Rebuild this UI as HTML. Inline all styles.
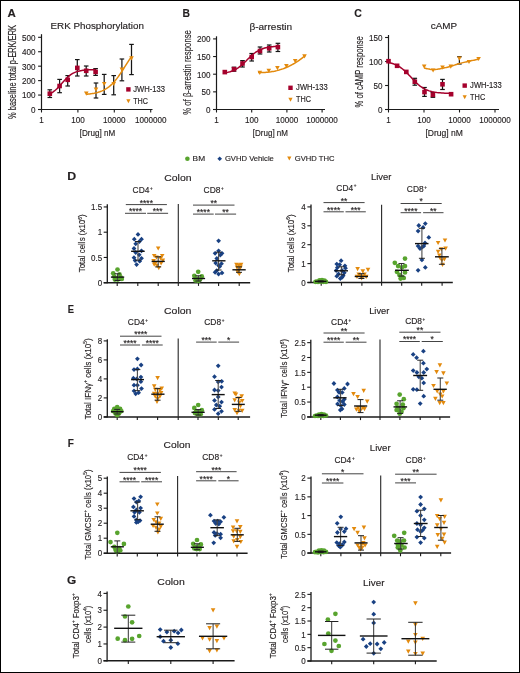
<!DOCTYPE html>
<html><head><meta charset="utf-8"><style>
html,body{margin:0;padding:0;background:#fff;}
svg{display:block;will-change:transform;font-family:"Liberation Sans",sans-serif;fill:#231f20;}
text{stroke:#231f20;stroke-width:0.15px;}
</style></head><body>
<svg width="520" height="673" viewBox="0 0 520 673">
<rect x="0.5" y="0.5" width="519" height="672" fill="#fff" stroke="#000" stroke-width="1"/>
<line x1="41.50" y1="34.20" x2="41.50" y2="110.00" stroke="#1a1a1a" stroke-width="1.2"/>
<line x1="38.10" y1="109.50" x2="152.50" y2="109.50" stroke="#1a1a1a" stroke-width="1.2"/>
<line x1="38.10" y1="109.50" x2="41.50" y2="109.50" stroke="#1a1a1a" stroke-width="1.1"/>
<text x="35.60" y="112.85" font-size="9.3" text-anchor="end" textLength="4.5" lengthAdjust="spacingAndGlyphs">0</text>
<line x1="38.10" y1="95.06" x2="41.50" y2="95.06" stroke="#1a1a1a" stroke-width="1.1"/>
<text x="35.60" y="98.41" font-size="9.3" text-anchor="end" textLength="13.5" lengthAdjust="spacingAndGlyphs">100</text>
<line x1="38.10" y1="80.62" x2="41.50" y2="80.62" stroke="#1a1a1a" stroke-width="1.1"/>
<text x="35.60" y="83.97" font-size="9.3" text-anchor="end" textLength="13.5" lengthAdjust="spacingAndGlyphs">200</text>
<line x1="38.10" y1="66.18" x2="41.50" y2="66.18" stroke="#1a1a1a" stroke-width="1.1"/>
<text x="35.60" y="69.53" font-size="9.3" text-anchor="end" textLength="13.5" lengthAdjust="spacingAndGlyphs">300</text>
<line x1="38.10" y1="51.74" x2="41.50" y2="51.74" stroke="#1a1a1a" stroke-width="1.1"/>
<text x="35.60" y="55.09" font-size="9.3" text-anchor="end" textLength="13.5" lengthAdjust="spacingAndGlyphs">400</text>
<line x1="38.10" y1="37.30" x2="41.50" y2="37.30" stroke="#1a1a1a" stroke-width="1.1"/>
<text x="35.60" y="40.65" font-size="9.3" text-anchor="end" textLength="13.5" lengthAdjust="spacingAndGlyphs">500</text>
<line x1="41.50" y1="109.50" x2="41.50" y2="112.50" stroke="#1a1a1a" stroke-width="1.1"/>
<text x="41.50" y="123.10" font-size="8.9" text-anchor="middle" textLength="4.5" lengthAdjust="spacingAndGlyphs">1</text>
<line x1="77.90" y1="109.50" x2="77.90" y2="112.50" stroke="#1a1a1a" stroke-width="1.1"/>
<text x="77.90" y="123.10" font-size="8.9" text-anchor="middle" textLength="13.51" lengthAdjust="spacingAndGlyphs">100</text>
<line x1="114.30" y1="109.50" x2="114.30" y2="112.50" stroke="#1a1a1a" stroke-width="1.1"/>
<text x="114.30" y="123.10" font-size="8.9" text-anchor="middle" textLength="22.52" lengthAdjust="spacingAndGlyphs">10000</text>
<line x1="150.70" y1="109.50" x2="150.70" y2="112.50" stroke="#1a1a1a" stroke-width="1.1"/>
<text x="150.70" y="123.10" font-size="8.9" text-anchor="middle" textLength="31.53" lengthAdjust="spacingAndGlyphs">1000000</text>
<text x="97.50" y="136.20" font-size="8.6" text-anchor="middle" textLength="35.5" lengthAdjust="spacingAndGlyphs">[Drug] nM</text>
<text transform="translate(15.70,71.90) rotate(-90)" font-size="10.2" text-anchor="middle" textLength="94.0" lengthAdjust="spacingAndGlyphs">% baseline total p-ERK/ERK</text>
<text x="50.51" y="28.50" font-size="9.4" textLength="93.43" lengthAdjust="spacingAndGlyphs">ERK Phosphorylation</text>
<line x1="49.80" y1="89.80" x2="49.80" y2="97.50" stroke="#151515" stroke-width="1.25"/>
<line x1="47.50" y1="89.80" x2="52.10" y2="89.80" stroke="#151515" stroke-width="1.2"/>
<line x1="47.50" y1="97.50" x2="52.10" y2="97.50" stroke="#151515" stroke-width="1.2"/>
<line x1="59.60" y1="79.40" x2="59.60" y2="92.70" stroke="#151515" stroke-width="1.25"/>
<line x1="57.30" y1="79.40" x2="61.90" y2="79.40" stroke="#151515" stroke-width="1.2"/>
<line x1="57.30" y1="92.70" x2="61.90" y2="92.70" stroke="#151515" stroke-width="1.2"/>
<line x1="67.70" y1="75.60" x2="67.70" y2="86.00" stroke="#151515" stroke-width="1.25"/>
<line x1="65.40" y1="75.60" x2="70.00" y2="75.60" stroke="#151515" stroke-width="1.2"/>
<line x1="65.40" y1="86.00" x2="70.00" y2="86.00" stroke="#151515" stroke-width="1.2"/>
<line x1="77.30" y1="59.60" x2="77.30" y2="76.00" stroke="#151515" stroke-width="1.25"/>
<line x1="75.00" y1="59.60" x2="79.60" y2="59.60" stroke="#151515" stroke-width="1.2"/>
<line x1="75.00" y1="76.00" x2="79.60" y2="76.00" stroke="#151515" stroke-width="1.2"/>
<line x1="86.20" y1="66.00" x2="86.20" y2="76.00" stroke="#151515" stroke-width="1.25"/>
<line x1="83.90" y1="66.00" x2="88.50" y2="66.00" stroke="#151515" stroke-width="1.2"/>
<line x1="83.90" y1="76.00" x2="88.50" y2="76.00" stroke="#151515" stroke-width="1.2"/>
<line x1="95.60" y1="68.60" x2="95.60" y2="75.40" stroke="#151515" stroke-width="1.25"/>
<line x1="93.30" y1="68.60" x2="97.90" y2="68.60" stroke="#151515" stroke-width="1.2"/>
<line x1="93.30" y1="75.40" x2="97.90" y2="75.40" stroke="#151515" stroke-width="1.2"/>
<line x1="96.00" y1="83.00" x2="96.00" y2="98.00" stroke="#151515" stroke-width="1.25"/>
<line x1="93.70" y1="83.00" x2="98.30" y2="83.00" stroke="#151515" stroke-width="1.2"/>
<line x1="93.70" y1="98.00" x2="98.30" y2="98.00" stroke="#151515" stroke-width="1.2"/>
<line x1="104.20" y1="74.40" x2="104.20" y2="94.40" stroke="#151515" stroke-width="1.25"/>
<line x1="101.90" y1="74.40" x2="106.50" y2="74.40" stroke="#151515" stroke-width="1.2"/>
<line x1="101.90" y1="94.40" x2="106.50" y2="94.40" stroke="#151515" stroke-width="1.2"/>
<line x1="113.70" y1="75.60" x2="113.70" y2="94.80" stroke="#151515" stroke-width="1.25"/>
<line x1="111.40" y1="75.60" x2="116.00" y2="75.60" stroke="#151515" stroke-width="1.2"/>
<line x1="111.40" y1="94.80" x2="116.00" y2="94.80" stroke="#151515" stroke-width="1.2"/>
<line x1="121.90" y1="59.00" x2="121.90" y2="80.80" stroke="#151515" stroke-width="1.25"/>
<line x1="119.60" y1="59.00" x2="124.20" y2="59.00" stroke="#151515" stroke-width="1.2"/>
<line x1="119.60" y1="80.80" x2="124.20" y2="80.80" stroke="#151515" stroke-width="1.2"/>
<line x1="131.50" y1="44.40" x2="131.50" y2="74.60" stroke="#151515" stroke-width="1.25"/>
<line x1="129.20" y1="44.40" x2="133.80" y2="44.40" stroke="#151515" stroke-width="1.2"/>
<line x1="129.20" y1="74.60" x2="133.80" y2="74.60" stroke="#151515" stroke-width="1.2"/>
<path d="M49.80,93.82 L50.95,93.24 L52.09,92.58 L53.23,91.82 L54.38,90.97 L55.52,90.02 L56.67,88.99 L57.81,87.86 L58.96,86.66 L60.10,85.40 L61.25,84.11 L62.39,82.80 L63.54,81.50 L64.69,80.22 L65.83,79.00 L66.97,77.86 L68.12,76.79 L69.26,75.81 L70.41,74.93 L71.55,74.15 L72.70,73.46 L73.84,72.85 L74.99,72.33 L76.13,71.88 L77.28,71.50 L78.42,71.17 L79.57,70.90 L80.72,70.66 L81.86,70.47 L83.00,70.31 L84.15,70.17 L85.29,70.06 L86.44,69.96 L87.58,69.88 L88.73,69.82 L89.88,69.76 L91.02,69.72 L92.16,69.68 L93.31,69.65 L94.45,69.62 L95.60,69.60" fill="none" stroke="#a5012c" stroke-width="1.5" stroke-linejoin="round"/>
<path d="M86.30,94.24 L87.43,94.14 L88.56,94.02 L89.69,93.89 L90.82,93.75 L91.95,93.59 L93.08,93.40 L94.21,93.20 L95.34,92.96 L96.47,92.70 L97.60,92.41 L98.73,92.08 L99.86,91.71 L100.99,91.30 L102.12,90.84 L103.25,90.33 L104.38,89.76 L105.51,89.14 L106.64,88.44 L107.77,87.68 L108.90,86.84 L110.03,85.92 L111.16,84.92 L112.29,83.83 L113.42,82.66 L114.55,81.41 L115.68,80.07 L116.81,78.64 L117.94,77.14 L119.07,75.56 L120.20,73.92 L121.33,72.23 L122.46,70.50 L123.59,68.73 L124.72,66.94 L125.85,65.16 L126.98,63.38 L128.11,61.62 L129.24,59.91 L130.37,58.24 L131.50,56.63" fill="none" stroke="#e38a0d" stroke-width="1.5" stroke-linejoin="round"/>
<rect x="47.50" y="91.40" width="4.6" height="4.6" fill="#a5012c"/>
<rect x="57.30" y="83.70" width="4.6" height="4.6" fill="#a5012c"/>
<rect x="65.40" y="77.50" width="4.6" height="4.6" fill="#a5012c"/>
<rect x="75.00" y="65.60" width="4.6" height="4.6" fill="#a5012c"/>
<rect x="83.90" y="68.50" width="4.6" height="4.6" fill="#a5012c"/>
<rect x="93.30" y="69.60" width="4.6" height="4.6" fill="#a5012c"/>
<path d="M84.00,91.60H88.60L86.30,95.80Z" fill="#e38a0d"/>
<path d="M93.70,87.50H98.30L96.00,91.70Z" fill="#e38a0d"/>
<path d="M101.90,81.90H106.50L104.20,86.10Z" fill="#e38a0d"/>
<path d="M111.40,81.90H116.00L113.70,86.10Z" fill="#e38a0d"/>
<path d="M119.60,67.50H124.20L121.90,71.70Z" fill="#e38a0d"/>
<path d="M129.20,56.20H133.80L131.50,60.40Z" fill="#e38a0d"/>
<rect x="126.20" y="87.20" width="4.4" height="4.4" fill="#a5012c"/>
<path d="M126.30,99.25H130.50L128.40,103.15Z" fill="#e38a0d"/>
<text x="133.20" y="92.00" font-size="8.2" textLength="31.8" lengthAdjust="spacingAndGlyphs">JWH-133</text>
<text x="133.20" y="103.60" font-size="8.2" textLength="14.8" lengthAdjust="spacingAndGlyphs">THC</text>
<line x1="216.50" y1="36.30" x2="216.50" y2="110.00" stroke="#1a1a1a" stroke-width="1.2"/>
<line x1="213.10" y1="109.50" x2="325.00" y2="109.50" stroke="#1a1a1a" stroke-width="1.2"/>
<line x1="213.10" y1="109.50" x2="216.50" y2="109.50" stroke="#1a1a1a" stroke-width="1.1"/>
<text x="210.60" y="112.85" font-size="9.3" text-anchor="end" textLength="4.5" lengthAdjust="spacingAndGlyphs">0</text>
<line x1="213.10" y1="91.85" x2="216.50" y2="91.85" stroke="#1a1a1a" stroke-width="1.1"/>
<text x="210.60" y="95.20" font-size="9.3" text-anchor="end" textLength="9.0" lengthAdjust="spacingAndGlyphs">50</text>
<line x1="213.10" y1="74.20" x2="216.50" y2="74.20" stroke="#1a1a1a" stroke-width="1.1"/>
<text x="210.60" y="77.55" font-size="9.3" text-anchor="end" textLength="13.5" lengthAdjust="spacingAndGlyphs">100</text>
<line x1="213.10" y1="56.55" x2="216.50" y2="56.55" stroke="#1a1a1a" stroke-width="1.1"/>
<text x="210.60" y="59.90" font-size="9.3" text-anchor="end" textLength="13.5" lengthAdjust="spacingAndGlyphs">150</text>
<line x1="213.10" y1="38.90" x2="216.50" y2="38.90" stroke="#1a1a1a" stroke-width="1.1"/>
<text x="210.60" y="42.25" font-size="9.3" text-anchor="end" textLength="13.5" lengthAdjust="spacingAndGlyphs">200</text>
<line x1="216.50" y1="109.50" x2="216.50" y2="112.50" stroke="#1a1a1a" stroke-width="1.1"/>
<text x="216.50" y="123.10" font-size="8.9" text-anchor="middle" textLength="4.5" lengthAdjust="spacingAndGlyphs">1</text>
<line x1="251.70" y1="109.50" x2="251.70" y2="112.50" stroke="#1a1a1a" stroke-width="1.1"/>
<text x="251.70" y="123.10" font-size="8.9" text-anchor="middle" textLength="13.51" lengthAdjust="spacingAndGlyphs">100</text>
<line x1="286.90" y1="109.50" x2="286.90" y2="112.50" stroke="#1a1a1a" stroke-width="1.1"/>
<text x="286.90" y="123.10" font-size="8.9" text-anchor="middle" textLength="22.52" lengthAdjust="spacingAndGlyphs">10000</text>
<line x1="322.10" y1="109.50" x2="322.10" y2="112.50" stroke="#1a1a1a" stroke-width="1.1"/>
<text x="322.10" y="123.10" font-size="8.9" text-anchor="middle" textLength="31.53" lengthAdjust="spacingAndGlyphs">1000000</text>
<text x="270.40" y="136.20" font-size="8.6" text-anchor="middle" textLength="35.2" lengthAdjust="spacingAndGlyphs">[Drug] nM</text>
<text transform="translate(190.60,72.45) rotate(-90)" font-size="10.2" text-anchor="middle" textLength="84.7" lengthAdjust="spacingAndGlyphs">% of β-arrestin response</text>
<text x="249.40" y="30.10" font-size="9.6" textLength="42.69" lengthAdjust="spacingAndGlyphs">β-arrestin</text>
<line x1="234.00" y1="67.20" x2="234.00" y2="71.20" stroke="#151515" stroke-width="1.25"/>
<line x1="231.70" y1="67.20" x2="236.30" y2="67.20" stroke="#151515" stroke-width="1.2"/>
<line x1="231.70" y1="71.20" x2="236.30" y2="71.20" stroke="#151515" stroke-width="1.2"/>
<line x1="242.50" y1="60.60" x2="242.50" y2="67.00" stroke="#151515" stroke-width="1.25"/>
<line x1="240.20" y1="60.60" x2="244.80" y2="60.60" stroke="#151515" stroke-width="1.2"/>
<line x1="240.20" y1="67.00" x2="244.80" y2="67.00" stroke="#151515" stroke-width="1.2"/>
<line x1="251.70" y1="53.50" x2="251.70" y2="61.00" stroke="#151515" stroke-width="1.25"/>
<line x1="249.40" y1="53.50" x2="254.00" y2="53.50" stroke="#151515" stroke-width="1.2"/>
<line x1="249.40" y1="61.00" x2="254.00" y2="61.00" stroke="#151515" stroke-width="1.2"/>
<line x1="260.00" y1="47.00" x2="260.00" y2="54.00" stroke="#151515" stroke-width="1.25"/>
<line x1="257.70" y1="47.00" x2="262.30" y2="47.00" stroke="#151515" stroke-width="1.2"/>
<line x1="257.70" y1="54.00" x2="262.30" y2="54.00" stroke="#151515" stroke-width="1.2"/>
<line x1="269.20" y1="45.00" x2="269.20" y2="52.00" stroke="#151515" stroke-width="1.25"/>
<line x1="266.90" y1="45.00" x2="271.50" y2="45.00" stroke="#151515" stroke-width="1.2"/>
<line x1="266.90" y1="52.00" x2="271.50" y2="52.00" stroke="#151515" stroke-width="1.2"/>
<line x1="277.90" y1="43.30" x2="277.90" y2="51.50" stroke="#151515" stroke-width="1.25"/>
<line x1="275.60" y1="43.30" x2="280.20" y2="43.30" stroke="#151515" stroke-width="1.2"/>
<line x1="275.60" y1="51.50" x2="280.20" y2="51.50" stroke="#151515" stroke-width="1.2"/>
<path d="M224.80,72.87 L226.13,72.65 L227.46,72.38 L228.79,72.07 L230.12,71.70 L231.45,71.26 L232.78,70.75 L234.11,70.17 L235.44,69.49 L236.77,68.73 L238.10,67.87 L239.43,66.91 L240.76,65.86 L242.09,64.72 L243.42,63.50 L244.75,62.23 L246.08,60.92 L247.41,59.59 L248.74,58.27 L250.07,56.98 L251.40,55.74 L252.73,54.57 L254.06,53.48 L255.39,52.49 L256.72,51.59 L258.05,50.79 L259.38,50.08 L260.71,49.46 L262.04,48.93 L263.37,48.46 L264.70,48.07 L266.03,47.73 L267.36,47.45 L268.69,47.21 L270.02,47.01 L271.35,46.84 L272.68,46.70 L274.01,46.58 L275.34,46.48 L276.67,46.40 L278.00,46.33" fill="none" stroke="#a5012c" stroke-width="1.5" stroke-linejoin="round"/>
<path d="M258.00,72.60 L259.18,72.60 L260.35,72.58 L261.52,72.56 L262.70,72.52 L263.88,72.47 L265.05,72.40 L266.23,72.31 L267.40,72.21 L268.57,72.09 L269.75,71.94 L270.93,71.78 L272.10,71.59 L273.27,71.39 L274.45,71.16 L275.62,70.90 L276.80,70.63 L277.98,70.32 L279.15,70.00 L280.32,69.65 L281.50,69.27 L282.68,68.87 L283.85,68.44 L285.02,67.98 L286.20,67.50 L287.38,66.99 L288.55,66.45 L289.73,65.88 L290.90,65.29 L292.07,64.66 L293.25,64.01 L294.43,63.32 L295.60,62.60 L296.77,61.86 L297.95,61.08 L299.12,60.27 L300.30,59.43 L301.48,58.56 L302.65,57.66 L303.82,56.72 L305.00,55.75" fill="none" stroke="#e38a0d" stroke-width="1.5" stroke-linejoin="round"/>
<rect x="222.50" y="69.80" width="4.6" height="4.6" fill="#a5012c"/>
<rect x="231.70" y="66.90" width="4.6" height="4.6" fill="#a5012c"/>
<rect x="240.20" y="61.20" width="4.6" height="4.6" fill="#a5012c"/>
<rect x="249.40" y="54.70" width="4.6" height="4.6" fill="#a5012c"/>
<rect x="257.70" y="48.70" width="4.6" height="4.6" fill="#a5012c"/>
<rect x="266.90" y="46.00" width="4.6" height="4.6" fill="#a5012c"/>
<rect x="275.60" y="44.80" width="4.6" height="4.6" fill="#a5012c"/>
<path d="M257.50,70.70H262.10L259.80,74.90Z" fill="#e38a0d"/>
<path d="M266.50,68.80H271.10L268.80,73.00Z" fill="#e38a0d"/>
<path d="M275.10,66.10H279.70L277.40,70.30Z" fill="#e38a0d"/>
<path d="M284.10,64.10H288.70L286.40,68.30Z" fill="#e38a0d"/>
<path d="M292.90,59.00H297.50L295.20,63.20Z" fill="#e38a0d"/>
<path d="M302.20,54.20H306.80L304.50,58.40Z" fill="#e38a0d"/>
<rect x="288.30" y="85.60" width="4.4" height="4.4" fill="#a5012c"/>
<path d="M288.40,97.75H292.60L290.50,101.65Z" fill="#e38a0d"/>
<text x="296.10" y="90.40" font-size="8.2" textLength="31.7" lengthAdjust="spacingAndGlyphs">JWH-133</text>
<text x="296.10" y="102.10" font-size="8.2" textLength="14.9" lengthAdjust="spacingAndGlyphs">THC</text>
<line x1="388.50" y1="35.00" x2="388.50" y2="110.00" stroke="#1a1a1a" stroke-width="1.2"/>
<line x1="385.10" y1="109.50" x2="499.00" y2="109.50" stroke="#1a1a1a" stroke-width="1.2"/>
<line x1="385.10" y1="109.50" x2="388.50" y2="109.50" stroke="#1a1a1a" stroke-width="1.1"/>
<text x="382.60" y="112.85" font-size="9.3" text-anchor="end" textLength="4.5" lengthAdjust="spacingAndGlyphs">0</text>
<line x1="385.10" y1="85.50" x2="388.50" y2="85.50" stroke="#1a1a1a" stroke-width="1.1"/>
<text x="382.60" y="88.85" font-size="9.3" text-anchor="end" textLength="9.0" lengthAdjust="spacingAndGlyphs">50</text>
<line x1="385.10" y1="61.50" x2="388.50" y2="61.50" stroke="#1a1a1a" stroke-width="1.1"/>
<text x="382.60" y="64.85" font-size="9.3" text-anchor="end" textLength="13.5" lengthAdjust="spacingAndGlyphs">100</text>
<line x1="385.10" y1="37.50" x2="388.50" y2="37.50" stroke="#1a1a1a" stroke-width="1.1"/>
<text x="382.60" y="40.85" font-size="9.3" text-anchor="end" textLength="13.5" lengthAdjust="spacingAndGlyphs">150</text>
<line x1="388.50" y1="109.50" x2="388.50" y2="112.50" stroke="#1a1a1a" stroke-width="1.1"/>
<text x="388.50" y="123.10" font-size="8.9" text-anchor="middle" textLength="4.5" lengthAdjust="spacingAndGlyphs">1</text>
<line x1="424.00" y1="109.50" x2="424.00" y2="112.50" stroke="#1a1a1a" stroke-width="1.1"/>
<text x="424.00" y="123.10" font-size="8.9" text-anchor="middle" textLength="13.51" lengthAdjust="spacingAndGlyphs">100</text>
<line x1="459.50" y1="109.50" x2="459.50" y2="112.50" stroke="#1a1a1a" stroke-width="1.1"/>
<text x="459.50" y="123.10" font-size="8.9" text-anchor="middle" textLength="22.52" lengthAdjust="spacingAndGlyphs">10000</text>
<line x1="495.00" y1="109.50" x2="495.00" y2="112.50" stroke="#1a1a1a" stroke-width="1.1"/>
<text x="495.00" y="123.10" font-size="8.9" text-anchor="middle" textLength="31.53" lengthAdjust="spacingAndGlyphs">1000000</text>
<text x="444.20" y="136.20" font-size="8.6" text-anchor="middle" textLength="37.5" lengthAdjust="spacingAndGlyphs">[Drug] nM</text>
<text transform="translate(362.70,71.90) rotate(-90)" font-size="10.2" text-anchor="middle" textLength="71.2" lengthAdjust="spacingAndGlyphs">% of cAMP response</text>
<text x="430.81" y="28.70" font-size="9.3" textLength="26.31" lengthAdjust="spacingAndGlyphs">cAMP</text>
<line x1="414.80" y1="78.30" x2="414.80" y2="85.20" stroke="#151515" stroke-width="1.25"/>
<line x1="412.50" y1="78.30" x2="417.10" y2="78.30" stroke="#151515" stroke-width="1.2"/>
<line x1="412.50" y1="85.20" x2="417.10" y2="85.20" stroke="#151515" stroke-width="1.2"/>
<line x1="424.50" y1="87.50" x2="424.50" y2="96.40" stroke="#151515" stroke-width="1.25"/>
<line x1="422.20" y1="87.50" x2="426.80" y2="87.50" stroke="#151515" stroke-width="1.2"/>
<line x1="422.20" y1="96.40" x2="426.80" y2="96.40" stroke="#151515" stroke-width="1.2"/>
<line x1="432.90" y1="92.50" x2="432.90" y2="97.30" stroke="#151515" stroke-width="1.25"/>
<line x1="430.60" y1="92.50" x2="435.20" y2="92.50" stroke="#151515" stroke-width="1.2"/>
<line x1="430.60" y1="97.30" x2="435.20" y2="97.30" stroke="#151515" stroke-width="1.2"/>
<line x1="442.50" y1="79.40" x2="442.50" y2="89.50" stroke="#151515" stroke-width="1.25"/>
<line x1="440.20" y1="79.40" x2="444.80" y2="79.40" stroke="#151515" stroke-width="1.2"/>
<line x1="440.20" y1="89.50" x2="444.80" y2="89.50" stroke="#151515" stroke-width="1.2"/>
<line x1="459.40" y1="56.70" x2="459.40" y2="64.00" stroke="#151515" stroke-width="1.25"/>
<line x1="457.10" y1="56.70" x2="461.70" y2="56.70" stroke="#151515" stroke-width="1.2"/>
<line x1="457.10" y1="64.00" x2="461.70" y2="64.00" stroke="#151515" stroke-width="1.2"/>
<path d="M388.50,62.54 L390.06,62.88 L391.63,63.28 L393.19,63.77 L394.76,64.34 L396.32,65.02 L397.89,65.82 L399.45,66.74 L401.02,67.79 L402.58,68.98 L404.15,70.31 L405.72,71.75 L407.28,73.30 L408.85,74.93 L410.41,76.61 L411.98,78.30 L413.54,79.98 L415.11,81.59 L416.67,83.12 L418.24,84.53 L419.80,85.82 L421.37,86.98 L422.93,88.00 L424.50,88.89 L426.06,89.65 L427.62,90.31 L429.19,90.86 L430.75,91.32 L432.32,91.71 L433.88,92.03 L435.45,92.30 L437.02,92.52 L438.58,92.70 L440.15,92.85 L441.71,92.97 L443.28,93.07 L444.84,93.15 L446.41,93.21 L447.97,93.27 L449.54,93.31 L451.10,93.35" fill="none" stroke="#a5012c" stroke-width="1.5" stroke-linejoin="round"/>
<path d="M424.00,68.00 L424.54,68.11 L425.22,68.26 L426.04,68.45 L426.95,68.66 L427.94,68.88 L428.97,69.08 L430.02,69.28 L431.06,69.43 L432.06,69.55 L433.00,69.60 L433.90,69.60 L434.80,69.56 L435.70,69.48 L436.60,69.37 L437.50,69.24 L438.40,69.09 L439.30,68.92 L440.20,68.75 L441.10,68.57 L442.00,68.40 L442.90,68.22 L443.80,68.03 L444.70,67.83 L445.60,67.62 L446.50,67.40 L447.40,67.17 L448.30,66.94 L449.20,66.69 L450.10,66.45 L451.00,66.20 L451.90,65.94 L452.78,65.67 L453.67,65.39 L454.55,65.10 L455.44,64.81 L456.33,64.52 L457.23,64.23 L458.14,63.94 L459.06,63.67 L460.00,63.40 L460.97,63.14 L461.96,62.88 L462.97,62.63 L464.00,62.38 L465.03,62.14 L466.05,61.90 L467.07,61.66 L468.07,61.44 L469.05,61.21 L470.00,61.00 L470.96,60.79 L471.95,60.57 L472.95,60.36 L473.95,60.15 L474.93,59.95 L475.85,59.76 L476.70,59.59 L477.45,59.44 L478.09,59.30 L478.60,59.20" fill="none" stroke="#e38a0d" stroke-width="1.5" stroke-linejoin="round"/>
<rect x="386.20" y="58.90" width="4.6" height="4.6" fill="#a5012c"/>
<rect x="394.80" y="63.50" width="4.6" height="4.6" fill="#a5012c"/>
<rect x="404.00" y="69.60" width="4.6" height="4.6" fill="#a5012c"/>
<rect x="412.50" y="79.40" width="4.6" height="4.6" fill="#a5012c"/>
<rect x="422.20" y="89.80" width="4.6" height="4.6" fill="#a5012c"/>
<rect x="430.60" y="92.50" width="4.6" height="4.6" fill="#a5012c"/>
<rect x="440.20" y="82.00" width="4.6" height="4.6" fill="#a5012c"/>
<rect x="448.80" y="91.90" width="4.6" height="4.6" fill="#a5012c"/>
<path d="M421.90,64.60H426.50L424.20,68.80Z" fill="#e38a0d"/>
<path d="M430.80,68.40H435.40L433.10,72.60Z" fill="#e38a0d"/>
<path d="M440.20,65.40H444.80L442.50,69.60Z" fill="#e38a0d"/>
<path d="M448.50,64.60H453.10L450.80,68.80Z" fill="#e38a0d"/>
<path d="M457.10,56.60H461.70L459.40,60.80Z" fill="#e38a0d"/>
<path d="M466.70,59.90H471.30L469.00,64.10Z" fill="#e38a0d"/>
<path d="M476.30,56.90H480.90L478.60,61.10Z" fill="#e38a0d"/>
<rect x="462.50" y="83.40" width="4.4" height="4.4" fill="#a5012c"/>
<path d="M462.60,95.25H466.80L464.70,99.15Z" fill="#e38a0d"/>
<text x="470.10" y="88.20" font-size="8.2" textLength="31.7" lengthAdjust="spacingAndGlyphs">JWH-133</text>
<text x="470.10" y="99.60" font-size="8.2" textLength="15.1" lengthAdjust="spacingAndGlyphs">THC</text>
<circle cx="187.40" cy="158.80" r="2.3" fill="#58a42e"/>
<text x="192.63" y="160.90" font-size="7.8" textLength="12.47" lengthAdjust="spacingAndGlyphs">BM</text>
<path d="M219.70,156.50L222.00,158.80L219.70,161.10L217.40,158.80Z" fill="#194183"/>
<text x="224.92" y="160.90" font-size="7.8" textLength="48.94" lengthAdjust="spacingAndGlyphs">GVHD Vehicle</text>
<path d="M287.20,156.60H291.40L289.30,160.60Z" fill="#e38a0d"/>
<text x="294.72" y="160.90" font-size="7.8" textLength="39.68" lengthAdjust="spacingAndGlyphs">GVHD THC</text>
<text x="7.51" y="16.50" font-size="11.2" font-weight="bold" stroke-width="0.55" textLength="8.30" lengthAdjust="spacingAndGlyphs">A</text>
<text x="182.43" y="16.60" font-size="11.2" font-weight="bold" stroke-width="0.55" textLength="7.46" lengthAdjust="spacingAndGlyphs">B</text>
<text x="354.28" y="16.50" font-size="11.2" font-weight="bold" stroke-width="0.55" textLength="7.61" lengthAdjust="spacingAndGlyphs">C</text>
<text x="67.30" y="180.40" font-size="11.2" font-weight="bold" stroke-width="0.55" textLength="8.92" lengthAdjust="spacingAndGlyphs">D</text>
<text x="67.69" y="313.20" font-size="11.2" font-weight="bold" stroke-width="0.55" textLength="6.26" lengthAdjust="spacingAndGlyphs">E</text>
<text x="67.65" y="446.80" font-size="11.2" font-weight="bold" stroke-width="0.55" textLength="6.11" lengthAdjust="spacingAndGlyphs">F</text>
<text x="67.03" y="584.30" font-size="11.2" font-weight="bold" stroke-width="0.55" textLength="9.22" lengthAdjust="spacingAndGlyphs">G</text>
<text x="164.28" y="180.80" font-size="9.6" textLength="27.23" lengthAdjust="spacingAndGlyphs">Colon</text>
<text x="370.95" y="180.40" font-size="9.6" textLength="20.42" lengthAdjust="spacingAndGlyphs">Liver</text>
<text x="163.97" y="313.90" font-size="9.6" textLength="27.44" lengthAdjust="spacingAndGlyphs">Colon</text>
<text x="369.16" y="313.60" font-size="9.6" textLength="20.11" lengthAdjust="spacingAndGlyphs">Liver</text>
<text x="163.59" y="447.90" font-size="9.6" textLength="26.81" lengthAdjust="spacingAndGlyphs">Colon</text>
<text x="369.83" y="451.00" font-size="9.6" textLength="20.84" lengthAdjust="spacingAndGlyphs">Liver</text>
<text x="157.38" y="585.30" font-size="9.6" textLength="27.33" lengthAdjust="spacingAndGlyphs">Colon</text>
<text x="363.11" y="586.30" font-size="9.6" textLength="21.47" lengthAdjust="spacingAndGlyphs">Liver</text>
<text x="132.58" y="193.20" font-size="8.3" textLength="16.78" lengthAdjust="spacingAndGlyphs">CD4</text>
<text x="150.00" y="189.80" font-size="4.6">+</text>
<text x="203.58" y="193.30" font-size="8.3" textLength="16.86" lengthAdjust="spacingAndGlyphs">CD8</text>
<text x="221.00" y="189.90" font-size="4.6">+</text>
<text x="336.38" y="190.80" font-size="8.3" textLength="16.78" lengthAdjust="spacingAndGlyphs">CD4</text>
<text x="353.80" y="187.40" font-size="4.6">+</text>
<text x="406.88" y="192.30" font-size="8.3" textLength="16.86" lengthAdjust="spacingAndGlyphs">CD8</text>
<text x="424.30" y="188.90" font-size="4.6">+</text>
<text x="127.88" y="325.20" font-size="8.3" textLength="16.78" lengthAdjust="spacingAndGlyphs">CD4</text>
<text x="145.30" y="321.80" font-size="4.6">+</text>
<text x="204.28" y="325.00" font-size="8.3" textLength="16.86" lengthAdjust="spacingAndGlyphs">CD8</text>
<text x="221.70" y="321.60" font-size="4.6">+</text>
<text x="331.08" y="325.20" font-size="8.3" textLength="16.78" lengthAdjust="spacingAndGlyphs">CD4</text>
<text x="348.50" y="321.80" font-size="4.6">+</text>
<text x="405.18" y="324.40" font-size="8.3" textLength="16.86" lengthAdjust="spacingAndGlyphs">CD8</text>
<text x="422.60" y="321.00" font-size="4.6">+</text>
<text x="127.28" y="460.20" font-size="8.3" textLength="16.78" lengthAdjust="spacingAndGlyphs">CD4</text>
<text x="144.70" y="456.80" font-size="4.6">+</text>
<text x="202.28" y="460.00" font-size="8.3" textLength="16.86" lengthAdjust="spacingAndGlyphs">CD8</text>
<text x="219.70" y="456.60" font-size="4.6">+</text>
<text x="334.48" y="463.20" font-size="8.3" textLength="16.78" lengthAdjust="spacingAndGlyphs">CD4</text>
<text x="351.90" y="459.80" font-size="4.6">+</text>
<text x="405.58" y="463.30" font-size="8.3" textLength="16.86" lengthAdjust="spacingAndGlyphs">CD8</text>
<text x="423.00" y="459.90" font-size="4.6">+</text>
<line x1="107.30" y1="204.20" x2="107.30" y2="283.30" stroke="#1a1a1a" stroke-width="1.3"/>
<line x1="103.70" y1="282.70" x2="250.20" y2="282.70" stroke="#1a1a1a" stroke-width="1.5"/>
<line x1="103.70" y1="282.70" x2="107.30" y2="282.70" stroke="#1a1a1a" stroke-width="1.1"/>
<text x="102.10" y="285.90" font-size="8.9" text-anchor="end" textLength="4.45" lengthAdjust="spacingAndGlyphs">0</text>
<line x1="103.70" y1="257.45" x2="107.30" y2="257.45" stroke="#1a1a1a" stroke-width="1.1"/>
<text x="102.10" y="260.65" font-size="8.9" text-anchor="end" textLength="11.12" lengthAdjust="spacingAndGlyphs">0.5</text>
<line x1="103.70" y1="232.20" x2="107.30" y2="232.20" stroke="#1a1a1a" stroke-width="1.1"/>
<text x="102.10" y="235.40" font-size="8.9" text-anchor="end" textLength="4.45" lengthAdjust="spacingAndGlyphs">1</text>
<line x1="103.70" y1="206.95" x2="107.30" y2="206.95" stroke="#1a1a1a" stroke-width="1.1"/>
<text x="102.10" y="210.15" font-size="8.9" text-anchor="end" textLength="11.12" lengthAdjust="spacingAndGlyphs">1.5</text>
<line x1="117.20" y1="282.70" x2="117.20" y2="285.90" stroke="#1a1a1a" stroke-width="1.1"/>
<line x1="137.80" y1="282.70" x2="137.80" y2="285.90" stroke="#1a1a1a" stroke-width="1.1"/>
<line x1="158.20" y1="282.70" x2="158.20" y2="285.90" stroke="#1a1a1a" stroke-width="1.1"/>
<line x1="198.50" y1="282.70" x2="198.50" y2="285.90" stroke="#1a1a1a" stroke-width="1.1"/>
<line x1="218.60" y1="282.70" x2="218.60" y2="285.90" stroke="#1a1a1a" stroke-width="1.1"/>
<line x1="239.20" y1="282.70" x2="239.20" y2="285.90" stroke="#1a1a1a" stroke-width="1.1"/>
<line x1="178.30" y1="204.00" x2="178.30" y2="282.70" stroke="#262626" stroke-width="1.1"/>
<line x1="178.30" y1="282.70" x2="178.30" y2="285.90" stroke="#1a1a1a" stroke-width="1.1"/>
<text transform="translate(85.20,243.30) rotate(-90)" font-size="9.6" text-anchor="middle" textLength="58.0" lengthAdjust="spacingAndGlyphs">Total cells (x10<tspan dy="-3.46" font-size="5.95">6</tspan><tspan dy="3.46">)</tspan></text>
<circle cx="117.50" cy="269.50" r="2.35" fill="#58a42e"/>
<circle cx="113.20" cy="273.30" r="2.35" fill="#58a42e"/>
<circle cx="119.50" cy="274.40" r="2.35" fill="#58a42e"/>
<circle cx="114.30" cy="276.70" r="2.35" fill="#58a42e"/>
<circle cx="120.70" cy="277.30" r="2.35" fill="#58a42e"/>
<circle cx="116.10" cy="278.50" r="2.35" fill="#58a42e"/>
<circle cx="117.80" cy="279.60" r="2.35" fill="#58a42e"/>
<circle cx="121.80" cy="279.00" r="2.35" fill="#58a42e"/>
<circle cx="114.90" cy="279.60" r="2.35" fill="#58a42e"/>
<line x1="117.50" y1="273.80" x2="117.50" y2="280.50" stroke="#4a4a4a" stroke-width="1.1"/>
<line x1="114.50" y1="273.80" x2="120.50" y2="273.80" stroke="#222" stroke-width="1.0"/>
<line x1="114.50" y1="280.50" x2="120.50" y2="280.50" stroke="#222" stroke-width="1.0"/>
<line x1="110.90" y1="277.10" x2="124.20" y2="277.10" stroke="#111" stroke-width="1.4"/>
<path d="M138.00,232.00L140.40,234.40L138.00,236.80L135.60,234.40Z" fill="#194183"/>
<path d="M134.30,236.80L136.70,239.20L134.30,241.60L131.90,239.20Z" fill="#194183"/>
<path d="M141.50,236.80L143.90,239.20L141.50,241.60L139.10,239.20Z" fill="#194183"/>
<path d="M135.70,241.40L138.10,243.80L135.70,246.20L133.30,243.80Z" fill="#194183"/>
<path d="M139.40,239.10L141.80,241.50L139.40,243.90L137.00,241.50Z" fill="#194183"/>
<path d="M134.00,246.10L136.40,248.50L134.00,250.90L131.60,248.50Z" fill="#194183"/>
<path d="M135.70,250.10L138.10,252.50L135.70,254.90L133.30,252.50Z" fill="#194183"/>
<path d="M141.50,248.40L143.90,250.80L141.50,253.20L139.10,250.80Z" fill="#194183"/>
<path d="M139.20,252.40L141.60,254.80L139.20,257.20L136.80,254.80Z" fill="#194183"/>
<path d="M134.00,255.30L136.40,257.70L134.00,260.10L131.60,257.70Z" fill="#194183"/>
<path d="M141.50,255.90L143.90,258.30L141.50,260.70L139.10,258.30Z" fill="#194183"/>
<path d="M135.10,258.20L137.50,260.60L135.10,263.00L132.70,260.60Z" fill="#194183"/>
<path d="M139.70,258.80L142.10,261.20L139.70,263.60L137.30,261.20Z" fill="#194183"/>
<path d="M136.60,262.20L139.00,264.60L136.60,267.00L134.20,264.60Z" fill="#194183"/>
<line x1="138.00" y1="241.50" x2="138.00" y2="260.20" stroke="#4a4a4a" stroke-width="1.1"/>
<line x1="135.00" y1="241.50" x2="141.00" y2="241.50" stroke="#222" stroke-width="1.0"/>
<line x1="135.00" y1="260.20" x2="141.00" y2="260.20" stroke="#222" stroke-width="1.0"/>
<line x1="131.10" y1="251.30" x2="144.70" y2="251.30" stroke="#111" stroke-width="1.4"/>
<path d="M155.90,246.40H160.50L158.20,250.60Z" fill="#e38a0d"/>
<path d="M151.90,253.90H156.50L154.20,258.10Z" fill="#e38a0d"/>
<path d="M159.90,253.90H164.50L162.20,258.10Z" fill="#e38a0d"/>
<path d="M154.20,255.60H158.80L156.50,259.80Z" fill="#e38a0d"/>
<path d="M158.20,256.20H162.80L160.50,260.40Z" fill="#e38a0d"/>
<path d="M151.30,259.10H155.90L153.60,263.30Z" fill="#e38a0d"/>
<path d="M160.50,258.50H165.10L162.80,262.70Z" fill="#e38a0d"/>
<path d="M153.00,261.40H157.60L155.30,265.60Z" fill="#e38a0d"/>
<path d="M158.80,261.40H163.40L161.10,265.60Z" fill="#e38a0d"/>
<path d="M154.70,263.70H159.30L157.00,267.90Z" fill="#e38a0d"/>
<path d="M156.50,266.00H161.10L158.80,270.20Z" fill="#e38a0d"/>
<path d="M151.90,262.50H156.50L154.20,266.70Z" fill="#e38a0d"/>
<line x1="158.20" y1="256.80" x2="158.20" y2="266.90" stroke="#4a4a4a" stroke-width="1.1"/>
<line x1="155.20" y1="256.80" x2="161.20" y2="256.80" stroke="#222" stroke-width="1.0"/>
<line x1="155.20" y1="266.90" x2="161.20" y2="266.90" stroke="#222" stroke-width="1.0"/>
<line x1="151.60" y1="261.40" x2="164.80" y2="261.40" stroke="#111" stroke-width="1.4"/>
<circle cx="198.20" cy="271.80" r="2.35" fill="#58a42e"/>
<circle cx="194.30" cy="275.80" r="2.35" fill="#58a42e"/>
<circle cx="201.80" cy="276.40" r="2.35" fill="#58a42e"/>
<circle cx="196.70" cy="278.70" r="2.35" fill="#58a42e"/>
<circle cx="200.10" cy="279.30" r="2.35" fill="#58a42e"/>
<circle cx="198.40" cy="281.00" r="2.35" fill="#58a42e"/>
<circle cx="195.50" cy="280.40" r="2.35" fill="#58a42e"/>
<line x1="198.40" y1="275.80" x2="198.40" y2="281.00" stroke="#4a4a4a" stroke-width="1.1"/>
<line x1="195.40" y1="275.80" x2="201.40" y2="275.80" stroke="#222" stroke-width="1.0"/>
<line x1="195.40" y1="281.00" x2="201.40" y2="281.00" stroke="#222" stroke-width="1.0"/>
<line x1="192.00" y1="278.50" x2="205.10" y2="278.50" stroke="#111" stroke-width="1.4"/>
<path d="M218.60,238.40L221.00,240.80L218.60,243.20L216.20,240.80Z" fill="#194183"/>
<path d="M218.60,248.40L221.00,250.80L218.60,253.20L216.20,250.80Z" fill="#194183"/>
<path d="M215.10,250.90L217.50,253.30L215.10,255.70L212.70,253.30Z" fill="#194183"/>
<path d="M222.00,250.90L224.40,253.30L222.00,255.70L219.60,253.30Z" fill="#194183"/>
<path d="M220.30,252.60L222.70,255.00L220.30,257.40L217.90,255.00Z" fill="#194183"/>
<path d="M216.80,256.10L219.20,258.50L216.80,260.90L214.40,258.50Z" fill="#194183"/>
<path d="M215.70,260.70L218.10,263.10L215.70,265.50L213.30,263.10Z" fill="#194183"/>
<path d="M221.50,261.30L223.90,263.70L221.50,266.10L219.10,263.70Z" fill="#194183"/>
<path d="M218.60,263.00L221.00,265.40L218.60,267.80L216.20,265.40Z" fill="#194183"/>
<path d="M219.70,264.20L222.10,266.60L219.70,269.00L217.30,266.60Z" fill="#194183"/>
<path d="M215.10,269.90L217.50,272.30L215.10,274.70L212.70,272.30Z" fill="#194183"/>
<path d="M218.60,271.70L221.00,274.10L218.60,276.50L216.20,274.10Z" fill="#194183"/>
<path d="M222.00,270.50L224.40,272.90L222.00,275.30L219.60,272.90Z" fill="#194183"/>
<path d="M216.80,268.20L219.20,270.60L216.80,273.00L214.40,270.60Z" fill="#194183"/>
<line x1="218.60" y1="252.20" x2="218.60" y2="270.00" stroke="#4a4a4a" stroke-width="1.1"/>
<line x1="215.60" y1="252.20" x2="221.60" y2="252.20" stroke="#222" stroke-width="1.0"/>
<line x1="215.60" y1="270.00" x2="221.60" y2="270.00" stroke="#222" stroke-width="1.0"/>
<line x1="212.20" y1="260.80" x2="225.50" y2="260.80" stroke="#111" stroke-width="1.4"/>
<path d="M234.20,262.70H238.80L236.50,266.90Z" fill="#e38a0d"/>
<path d="M238.80,262.70H243.40L241.10,266.90Z" fill="#e38a0d"/>
<path d="M236.50,263.30H241.10L238.80,267.50Z" fill="#e38a0d"/>
<path d="M234.70,265.60H239.30L237.00,269.80Z" fill="#e38a0d"/>
<path d="M238.20,265.60H242.80L240.50,269.80Z" fill="#e38a0d"/>
<path d="M236.50,268.50H241.10L238.80,272.70Z" fill="#e38a0d"/>
<path d="M235.30,269.70H239.90L237.60,273.90Z" fill="#e38a0d"/>
<path d="M237.00,272.00H241.60L239.30,276.20Z" fill="#e38a0d"/>
<line x1="239.00" y1="266.90" x2="239.00" y2="272.30" stroke="#4a4a4a" stroke-width="1.1"/>
<line x1="236.00" y1="266.90" x2="242.00" y2="266.90" stroke="#222" stroke-width="1.0"/>
<line x1="236.00" y1="272.30" x2="242.00" y2="272.30" stroke="#222" stroke-width="1.0"/>
<line x1="232.40" y1="269.80" x2="245.70" y2="269.80" stroke="#111" stroke-width="1.4"/>
<line x1="125.80" y1="204.60" x2="166.90" y2="204.60" stroke="#444" stroke-width="1.0"/>
<text x="146.35" y="205.50" font-size="8.2" text-anchor="middle" textLength="13.2" lengthAdjust="spacingAndGlyphs">****</text>
<line x1="125.00" y1="213.30" x2="146.00" y2="213.30" stroke="#444" stroke-width="1.0"/>
<text x="135.50" y="214.20" font-size="8.2" text-anchor="middle" textLength="13.2" lengthAdjust="spacingAndGlyphs">****</text>
<line x1="147.20" y1="213.30" x2="168.10" y2="213.30" stroke="#444" stroke-width="1.0"/>
<text x="157.65" y="214.20" font-size="8.2" text-anchor="middle" textLength="9.9" lengthAdjust="spacingAndGlyphs">***</text>
<line x1="193.00" y1="205.10" x2="234.50" y2="205.10" stroke="#444" stroke-width="1.0"/>
<text x="213.75" y="206.00" font-size="8.2" text-anchor="middle" textLength="6.6" lengthAdjust="spacingAndGlyphs">**</text>
<line x1="193.00" y1="214.10" x2="213.70" y2="214.10" stroke="#444" stroke-width="1.0"/>
<text x="203.35" y="215.00" font-size="8.2" text-anchor="middle" textLength="13.2" lengthAdjust="spacingAndGlyphs">****</text>
<line x1="215.00" y1="214.10" x2="236.10" y2="214.10" stroke="#444" stroke-width="1.0"/>
<text x="225.55" y="215.00" font-size="8.2" text-anchor="middle" textLength="6.6" lengthAdjust="spacingAndGlyphs">**</text>
<line x1="311.00" y1="204.50" x2="311.00" y2="283.10" stroke="#1a1a1a" stroke-width="1.3"/>
<line x1="307.40" y1="282.50" x2="452.80" y2="282.50" stroke="#1a1a1a" stroke-width="1.5"/>
<line x1="307.40" y1="282.50" x2="311.00" y2="282.50" stroke="#1a1a1a" stroke-width="1.1"/>
<text x="305.80" y="285.70" font-size="8.9" text-anchor="end" textLength="4.45" lengthAdjust="spacingAndGlyphs">0</text>
<line x1="307.40" y1="263.60" x2="311.00" y2="263.60" stroke="#1a1a1a" stroke-width="1.1"/>
<text x="305.80" y="266.80" font-size="8.9" text-anchor="end" textLength="4.45" lengthAdjust="spacingAndGlyphs">1</text>
<line x1="307.40" y1="244.70" x2="311.00" y2="244.70" stroke="#1a1a1a" stroke-width="1.1"/>
<text x="305.80" y="247.90" font-size="8.9" text-anchor="end" textLength="4.45" lengthAdjust="spacingAndGlyphs">2</text>
<line x1="307.40" y1="225.80" x2="311.00" y2="225.80" stroke="#1a1a1a" stroke-width="1.1"/>
<text x="305.80" y="229.00" font-size="8.9" text-anchor="end" textLength="4.45" lengthAdjust="spacingAndGlyphs">3</text>
<line x1="307.40" y1="206.90" x2="311.00" y2="206.90" stroke="#1a1a1a" stroke-width="1.1"/>
<text x="305.80" y="210.10" font-size="8.9" text-anchor="end" textLength="4.45" lengthAdjust="spacingAndGlyphs">4</text>
<line x1="321.20" y1="282.50" x2="321.20" y2="285.70" stroke="#1a1a1a" stroke-width="1.1"/>
<line x1="341.50" y1="282.50" x2="341.50" y2="285.70" stroke="#1a1a1a" stroke-width="1.1"/>
<line x1="361.90" y1="282.50" x2="361.90" y2="285.70" stroke="#1a1a1a" stroke-width="1.1"/>
<line x1="401.70" y1="282.50" x2="401.70" y2="285.70" stroke="#1a1a1a" stroke-width="1.1"/>
<line x1="421.70" y1="282.50" x2="421.70" y2="285.70" stroke="#1a1a1a" stroke-width="1.1"/>
<line x1="442.10" y1="282.50" x2="442.10" y2="285.70" stroke="#1a1a1a" stroke-width="1.1"/>
<line x1="381.60" y1="204.70" x2="381.60" y2="282.50" stroke="#262626" stroke-width="1.1"/>
<line x1="381.60" y1="282.50" x2="381.60" y2="285.70" stroke="#1a1a1a" stroke-width="1.1"/>
<text transform="translate(293.90,243.30) rotate(-90)" font-size="9.6" text-anchor="middle" textLength="58.0" lengthAdjust="spacingAndGlyphs">Total cells (x10<tspan dy="-3.46" font-size="5.95">6</tspan><tspan dy="3.46">)</tspan></text>
<circle cx="317.00" cy="281.50" r="2.35" fill="#58a42e"/>
<circle cx="319.50" cy="280.30" r="2.35" fill="#58a42e"/>
<circle cx="322.00" cy="280.00" r="2.35" fill="#58a42e"/>
<circle cx="324.50" cy="280.50" r="2.35" fill="#58a42e"/>
<circle cx="326.00" cy="281.80" r="2.35" fill="#58a42e"/>
<circle cx="318.00" cy="282.00" r="2.35" fill="#58a42e"/>
<circle cx="321.00" cy="281.60" r="2.35" fill="#58a42e"/>
<circle cx="323.50" cy="281.80" r="2.35" fill="#58a42e"/>
<circle cx="315.50" cy="281.80" r="2.35" fill="#58a42e"/>
<line x1="320.70" y1="280.80" x2="320.70" y2="282.00" stroke="#4a4a4a" stroke-width="1.1"/>
<line x1="317.70" y1="280.80" x2="323.70" y2="280.80" stroke="#222" stroke-width="1.0"/>
<line x1="317.70" y1="282.00" x2="323.70" y2="282.00" stroke="#222" stroke-width="1.0"/>
<line x1="315.00" y1="281.40" x2="326.50" y2="281.40" stroke="#111" stroke-width="1.4"/>
<path d="M341.10,258.30L343.50,260.70L341.10,263.10L338.70,260.70Z" fill="#194183"/>
<path d="M336.80,261.70L339.20,264.10L336.80,266.50L334.40,264.10Z" fill="#194183"/>
<path d="M339.70,262.30L342.10,264.70L339.70,267.10L337.30,264.70Z" fill="#194183"/>
<path d="M344.90,263.40L347.30,265.80L344.90,268.20L342.50,265.80Z" fill="#194183"/>
<path d="M337.40,265.20L339.80,267.60L337.40,270.00L335.00,267.60Z" fill="#194183"/>
<path d="M345.50,265.80L347.90,268.20L345.50,270.60L343.10,268.20Z" fill="#194183"/>
<path d="M336.20,268.10L338.60,270.50L336.20,272.90L333.80,270.50Z" fill="#194183"/>
<path d="M342.00,268.10L344.40,270.50L342.00,272.90L339.60,270.50Z" fill="#194183"/>
<path d="M344.30,270.40L346.70,272.80L344.30,275.20L341.90,272.80Z" fill="#194183"/>
<path d="M338.50,271.50L340.90,273.90L338.50,276.30L336.10,273.90Z" fill="#194183"/>
<path d="M336.80,273.80L339.20,276.20L336.80,278.60L334.40,276.20Z" fill="#194183"/>
<path d="M343.20,273.30L345.60,275.70L343.20,278.10L340.80,275.70Z" fill="#194183"/>
<path d="M340.30,276.10L342.70,278.50L340.30,280.90L337.90,278.50Z" fill="#194183"/>
<path d="M342.00,275.00L344.40,277.40L342.00,279.80L339.60,277.40Z" fill="#194183"/>
<line x1="341.40" y1="266.80" x2="341.40" y2="274.80" stroke="#4a4a4a" stroke-width="1.1"/>
<line x1="338.40" y1="266.80" x2="344.40" y2="266.80" stroke="#222" stroke-width="1.0"/>
<line x1="338.40" y1="274.80" x2="344.40" y2="274.80" stroke="#222" stroke-width="1.0"/>
<line x1="334.50" y1="270.80" x2="348.00" y2="270.80" stroke="#111" stroke-width="1.4"/>
<path d="M355.30,267.00H359.90L357.60,271.20Z" fill="#e38a0d"/>
<path d="M360.50,269.30H365.10L362.80,273.50Z" fill="#e38a0d"/>
<path d="M365.70,267.80H370.30L368.00,272.00Z" fill="#e38a0d"/>
<path d="M356.40,272.40H361.00L358.70,276.60Z" fill="#e38a0d"/>
<path d="M362.20,272.40H366.80L364.50,276.60Z" fill="#e38a0d"/>
<path d="M358.20,274.10H362.80L360.50,278.30Z" fill="#e38a0d"/>
<path d="M360.50,274.70H365.10L362.80,278.90Z" fill="#e38a0d"/>
<path d="M354.70,274.70H359.30L357.00,278.90Z" fill="#e38a0d"/>
<path d="M363.90,274.70H368.50L366.20,278.90Z" fill="#e38a0d"/>
<path d="M359.30,276.20H363.90L361.60,280.40Z" fill="#e38a0d"/>
<line x1="361.40" y1="273.70" x2="361.40" y2="278.50" stroke="#4a4a4a" stroke-width="1.1"/>
<line x1="358.40" y1="273.70" x2="364.40" y2="273.70" stroke="#222" stroke-width="1.0"/>
<line x1="358.40" y1="278.50" x2="364.40" y2="278.50" stroke="#222" stroke-width="1.0"/>
<line x1="354.70" y1="276.50" x2="368.00" y2="276.50" stroke="#111" stroke-width="1.4"/>
<circle cx="405.00" cy="258.60" r="2.35" fill="#58a42e"/>
<circle cx="394.80" cy="262.80" r="2.35" fill="#58a42e"/>
<circle cx="398.10" cy="266.10" r="2.35" fill="#58a42e"/>
<circle cx="405.00" cy="266.10" r="2.35" fill="#58a42e"/>
<circle cx="401.90" cy="267.40" r="2.35" fill="#58a42e"/>
<circle cx="396.90" cy="271.80" r="2.35" fill="#58a42e"/>
<circle cx="405.00" cy="272.40" r="2.35" fill="#58a42e"/>
<circle cx="399.40" cy="274.90" r="2.35" fill="#58a42e"/>
<circle cx="401.90" cy="276.80" r="2.35" fill="#58a42e"/>
<circle cx="400.60" cy="278.60" r="2.35" fill="#58a42e"/>
<circle cx="403.80" cy="278.00" r="2.35" fill="#58a42e"/>
<line x1="401.50" y1="263.60" x2="401.50" y2="276.10" stroke="#4a4a4a" stroke-width="1.1"/>
<line x1="398.50" y1="263.60" x2="404.50" y2="263.60" stroke="#222" stroke-width="1.0"/>
<line x1="398.50" y1="276.10" x2="404.50" y2="276.10" stroke="#222" stroke-width="1.0"/>
<line x1="395.00" y1="270.30" x2="408.80" y2="270.30" stroke="#111" stroke-width="1.4"/>
<path d="M418.80,223.10L421.20,225.50L418.80,227.90L416.40,225.50Z" fill="#194183"/>
<path d="M425.30,221.20L427.70,223.60L425.30,226.00L422.90,223.60Z" fill="#194183"/>
<path d="M423.10,225.00L425.50,227.40L423.10,229.80L420.70,227.40Z" fill="#194183"/>
<path d="M418.10,228.70L420.50,231.10L418.10,233.50L415.70,231.10Z" fill="#194183"/>
<path d="M428.80,235.00L431.20,237.40L428.80,239.80L426.40,237.40Z" fill="#194183"/>
<path d="M425.00,240.60L427.40,243.00L425.00,245.40L422.60,243.00Z" fill="#194183"/>
<path d="M418.10,243.70L420.50,246.10L418.10,248.50L415.70,246.10Z" fill="#194183"/>
<path d="M421.90,245.00L424.30,247.40L421.90,249.80L419.50,247.40Z" fill="#194183"/>
<path d="M420.00,246.20L422.40,248.60L420.00,251.00L417.60,248.60Z" fill="#194183"/>
<path d="M423.80,243.70L426.20,246.10L423.80,248.50L421.40,246.10Z" fill="#194183"/>
<path d="M421.90,257.50L424.30,259.90L421.90,262.30L419.50,259.90Z" fill="#194183"/>
<path d="M418.10,267.90L420.50,270.30L418.10,272.70L415.70,270.30Z" fill="#194183"/>
<path d="M425.30,265.00L427.70,267.40L425.30,269.80L422.90,267.40Z" fill="#194183"/>
<line x1="421.90" y1="228.30" x2="421.90" y2="258.30" stroke="#4a4a4a" stroke-width="1.1"/>
<line x1="418.90" y1="228.30" x2="424.90" y2="228.30" stroke="#222" stroke-width="1.0"/>
<line x1="418.90" y1="258.30" x2="424.90" y2="258.30" stroke="#222" stroke-width="1.0"/>
<line x1="415.00" y1="243.60" x2="428.50" y2="243.60" stroke="#111" stroke-width="1.4"/>
<path d="M435.80,240.90H440.40L438.10,245.10Z" fill="#e38a0d"/>
<path d="M442.70,238.40H447.30L445.00,242.60Z" fill="#e38a0d"/>
<path d="M435.80,249.70H440.40L438.10,253.90Z" fill="#e38a0d"/>
<path d="M443.30,246.50H447.90L445.60,250.70Z" fill="#e38a0d"/>
<path d="M439.00,247.20H443.60L441.30,251.40Z" fill="#e38a0d"/>
<path d="M437.70,255.90H442.30L440.00,260.10Z" fill="#e38a0d"/>
<path d="M442.10,257.20H446.70L444.40,261.40Z" fill="#e38a0d"/>
<path d="M439.60,258.40H444.20L441.90,262.60Z" fill="#e38a0d"/>
<path d="M440.20,262.80H444.80L442.50,267.00Z" fill="#e38a0d"/>
<path d="M437.10,253.40H441.70L439.40,257.60Z" fill="#e38a0d"/>
<line x1="441.90" y1="248.60" x2="441.90" y2="264.30" stroke="#4a4a4a" stroke-width="1.1"/>
<line x1="438.90" y1="248.60" x2="444.90" y2="248.60" stroke="#222" stroke-width="1.0"/>
<line x1="438.90" y1="264.30" x2="444.90" y2="264.30" stroke="#222" stroke-width="1.0"/>
<line x1="435.00" y1="256.80" x2="448.80" y2="256.80" stroke="#111" stroke-width="1.4"/>
<line x1="323.50" y1="202.60" x2="364.60" y2="202.60" stroke="#444" stroke-width="1.0"/>
<text x="344.05" y="203.50" font-size="8.2" text-anchor="middle" textLength="6.6" lengthAdjust="spacingAndGlyphs">**</text>
<line x1="323.50" y1="211.80" x2="343.80" y2="211.80" stroke="#444" stroke-width="1.0"/>
<text x="333.65" y="212.70" font-size="8.2" text-anchor="middle" textLength="13.2" lengthAdjust="spacingAndGlyphs">****</text>
<line x1="345.50" y1="211.80" x2="365.80" y2="211.80" stroke="#444" stroke-width="1.0"/>
<text x="355.65" y="212.70" font-size="8.2" text-anchor="middle" textLength="9.9" lengthAdjust="spacingAndGlyphs">***</text>
<line x1="400.60" y1="203.50" x2="441.70" y2="203.50" stroke="#444" stroke-width="1.0"/>
<text x="421.15" y="204.40" font-size="8.2" text-anchor="middle" textLength="3.3" lengthAdjust="spacingAndGlyphs">*</text>
<line x1="400.60" y1="212.70" x2="421.10" y2="212.70" stroke="#444" stroke-width="1.0"/>
<text x="410.85" y="213.60" font-size="8.2" text-anchor="middle" textLength="13.2" lengthAdjust="spacingAndGlyphs">****</text>
<line x1="423.10" y1="212.70" x2="443.50" y2="212.70" stroke="#444" stroke-width="1.0"/>
<text x="433.30" y="213.60" font-size="8.2" text-anchor="middle" textLength="6.6" lengthAdjust="spacingAndGlyphs">**</text>
<line x1="107.30" y1="339.20" x2="107.30" y2="417.50" stroke="#1a1a1a" stroke-width="1.3"/>
<line x1="103.70" y1="416.90" x2="250.10" y2="416.90" stroke="#1a1a1a" stroke-width="1.5"/>
<line x1="103.70" y1="416.90" x2="107.30" y2="416.90" stroke="#1a1a1a" stroke-width="1.1"/>
<text x="102.10" y="420.10" font-size="8.9" text-anchor="end" textLength="4.45" lengthAdjust="spacingAndGlyphs">0</text>
<line x1="103.70" y1="397.90" x2="107.30" y2="397.90" stroke="#1a1a1a" stroke-width="1.1"/>
<text x="102.10" y="401.10" font-size="8.9" text-anchor="end" textLength="4.45" lengthAdjust="spacingAndGlyphs">2</text>
<line x1="103.70" y1="378.90" x2="107.30" y2="378.90" stroke="#1a1a1a" stroke-width="1.1"/>
<text x="102.10" y="382.10" font-size="8.9" text-anchor="end" textLength="4.45" lengthAdjust="spacingAndGlyphs">4</text>
<line x1="103.70" y1="359.90" x2="107.30" y2="359.90" stroke="#1a1a1a" stroke-width="1.1"/>
<text x="102.10" y="363.10" font-size="8.9" text-anchor="end" textLength="4.45" lengthAdjust="spacingAndGlyphs">6</text>
<line x1="103.70" y1="340.90" x2="107.30" y2="340.90" stroke="#1a1a1a" stroke-width="1.1"/>
<text x="102.10" y="344.10" font-size="8.9" text-anchor="end" textLength="4.45" lengthAdjust="spacingAndGlyphs">8</text>
<line x1="117.20" y1="416.90" x2="117.20" y2="420.10" stroke="#1a1a1a" stroke-width="1.1"/>
<line x1="137.30" y1="416.90" x2="137.30" y2="420.10" stroke="#1a1a1a" stroke-width="1.1"/>
<line x1="157.60" y1="416.90" x2="157.60" y2="420.10" stroke="#1a1a1a" stroke-width="1.1"/>
<line x1="198.00" y1="416.90" x2="198.00" y2="420.10" stroke="#1a1a1a" stroke-width="1.1"/>
<line x1="218.30" y1="416.90" x2="218.30" y2="420.10" stroke="#1a1a1a" stroke-width="1.1"/>
<line x1="238.20" y1="416.90" x2="238.20" y2="420.10" stroke="#1a1a1a" stroke-width="1.1"/>
<line x1="178.20" y1="338.60" x2="178.20" y2="416.90" stroke="#262626" stroke-width="1.1"/>
<line x1="178.20" y1="416.90" x2="178.20" y2="420.10" stroke="#1a1a1a" stroke-width="1.1"/>
<text transform="translate(90.90,378.70) rotate(-90)" font-size="9.6" text-anchor="middle" textLength="81.0" lengthAdjust="spacingAndGlyphs">Total IFNγ<tspan dy="-3.46" font-size="5.95">+</tspan><tspan dy="3.46"> cells (x10</tspan><tspan dy="-3.46" font-size="5.95">5</tspan><tspan dy="3.46">)</tspan></text>
<circle cx="117.20" cy="407.10" r="2.35" fill="#58a42e"/>
<circle cx="114.30" cy="408.80" r="2.35" fill="#58a42e"/>
<circle cx="120.10" cy="408.80" r="2.35" fill="#58a42e"/>
<circle cx="113.20" cy="411.10" r="2.35" fill="#58a42e"/>
<circle cx="121.30" cy="411.10" r="2.35" fill="#58a42e"/>
<circle cx="117.20" cy="411.70" r="2.35" fill="#58a42e"/>
<circle cx="115.50" cy="413.40" r="2.35" fill="#58a42e"/>
<circle cx="119.00" cy="413.40" r="2.35" fill="#58a42e"/>
<circle cx="117.20" cy="415.20" r="2.35" fill="#58a42e"/>
<line x1="117.20" y1="409.40" x2="117.20" y2="414.00" stroke="#4a4a4a" stroke-width="1.1"/>
<line x1="114.20" y1="409.40" x2="120.20" y2="409.40" stroke="#222" stroke-width="1.0"/>
<line x1="114.20" y1="414.00" x2="120.20" y2="414.00" stroke="#222" stroke-width="1.0"/>
<line x1="110.90" y1="411.70" x2="123.60" y2="411.70" stroke="#111" stroke-width="1.4"/>
<path d="M137.40,356.40L139.80,358.80L137.40,361.20L135.00,358.80Z" fill="#194183"/>
<path d="M141.10,362.60L143.50,365.00L141.10,367.40L138.70,365.00Z" fill="#194183"/>
<path d="M134.00,367.20L136.40,369.60L134.00,372.00L131.60,369.60Z" fill="#194183"/>
<path d="M137.40,366.60L139.80,369.00L137.40,371.40L135.00,369.00Z" fill="#194183"/>
<path d="M133.40,375.80L135.80,378.20L133.40,380.60L131.00,378.20Z" fill="#194183"/>
<path d="M140.90,374.70L143.30,377.10L140.90,379.50L138.50,377.10Z" fill="#194183"/>
<path d="M136.80,376.40L139.20,378.80L136.80,381.20L134.40,378.80Z" fill="#194183"/>
<path d="M140.90,379.30L143.30,381.70L140.90,384.10L138.50,381.70Z" fill="#194183"/>
<path d="M134.00,382.80L136.40,385.20L134.00,387.60L131.60,385.20Z" fill="#194183"/>
<path d="M137.40,382.80L139.80,385.20L137.40,387.60L135.00,385.20Z" fill="#194183"/>
<path d="M141.50,386.20L143.90,388.60L141.50,391.00L139.10,388.60Z" fill="#194183"/>
<path d="M134.00,388.50L136.40,390.90L134.00,393.30L131.60,390.90Z" fill="#194183"/>
<path d="M138.60,390.30L141.00,392.70L138.60,395.10L136.20,392.70Z" fill="#194183"/>
<path d="M135.70,391.40L138.10,393.80L135.70,396.20L133.30,393.80Z" fill="#194183"/>
<line x1="137.40" y1="369.60" x2="137.40" y2="390.70" stroke="#4a4a4a" stroke-width="1.1"/>
<line x1="134.40" y1="369.60" x2="140.40" y2="369.60" stroke="#222" stroke-width="1.0"/>
<line x1="134.40" y1="390.70" x2="140.40" y2="390.70" stroke="#222" stroke-width="1.0"/>
<line x1="131.10" y1="379.60" x2="144.00" y2="379.60" stroke="#111" stroke-width="1.4"/>
<path d="M155.30,376.10H159.90L157.60,380.30Z" fill="#e38a0d"/>
<path d="M151.90,384.20H156.50L154.20,388.40Z" fill="#e38a0d"/>
<path d="M159.40,386.50H164.00L161.70,390.70Z" fill="#e38a0d"/>
<path d="M153.00,387.70H157.60L155.30,391.90Z" fill="#e38a0d"/>
<path d="M157.60,388.20H162.20L159.90,392.40Z" fill="#e38a0d"/>
<path d="M151.90,391.70H156.50L154.20,395.90Z" fill="#e38a0d"/>
<path d="M155.30,391.70H159.90L157.60,395.90Z" fill="#e38a0d"/>
<path d="M158.80,391.10H163.40L161.10,395.30Z" fill="#e38a0d"/>
<path d="M153.00,394.60H157.60L155.30,398.80Z" fill="#e38a0d"/>
<path d="M157.60,394.60H162.20L159.90,398.80Z" fill="#e38a0d"/>
<path d="M155.30,396.90H159.90L157.60,401.10Z" fill="#e38a0d"/>
<path d="M154.70,399.80H159.30L157.00,404.00Z" fill="#e38a0d"/>
<line x1="157.60" y1="388.40" x2="157.60" y2="400.20" stroke="#4a4a4a" stroke-width="1.1"/>
<line x1="154.60" y1="388.40" x2="160.60" y2="388.40" stroke="#222" stroke-width="1.0"/>
<line x1="154.60" y1="400.20" x2="160.60" y2="400.20" stroke="#222" stroke-width="1.0"/>
<line x1="151.30" y1="394.20" x2="164.50" y2="394.20" stroke="#111" stroke-width="1.4"/>
<circle cx="198.20" cy="405.00" r="2.35" fill="#58a42e"/>
<circle cx="194.30" cy="407.90" r="2.35" fill="#58a42e"/>
<circle cx="201.80" cy="410.20" r="2.35" fill="#58a42e"/>
<circle cx="196.10" cy="411.30" r="2.35" fill="#58a42e"/>
<circle cx="199.50" cy="411.90" r="2.35" fill="#58a42e"/>
<circle cx="197.80" cy="414.20" r="2.35" fill="#58a42e"/>
<circle cx="200.70" cy="414.20" r="2.35" fill="#58a42e"/>
<circle cx="194.90" cy="413.10" r="2.35" fill="#58a42e"/>
<line x1="198.20" y1="409.60" x2="198.20" y2="415.00" stroke="#4a4a4a" stroke-width="1.1"/>
<line x1="195.20" y1="409.60" x2="201.20" y2="409.60" stroke="#222" stroke-width="1.0"/>
<line x1="195.20" y1="415.00" x2="201.20" y2="415.00" stroke="#222" stroke-width="1.0"/>
<line x1="191.50" y1="412.30" x2="204.70" y2="412.30" stroke="#111" stroke-width="1.4"/>
<path d="M218.20,363.40L220.60,365.80L218.20,368.20L215.80,365.80Z" fill="#194183"/>
<path d="M214.50,374.30L216.90,376.70L214.50,379.10L212.10,376.70Z" fill="#194183"/>
<path d="M218.20,379.50L220.60,381.90L218.20,384.30L215.80,381.90Z" fill="#194183"/>
<path d="M221.70,378.90L224.10,381.30L221.70,383.70L219.30,381.30Z" fill="#194183"/>
<path d="M221.50,384.70L223.90,387.10L221.50,389.50L219.10,387.10Z" fill="#194183"/>
<path d="M214.50,387.60L216.90,390.00L214.50,392.40L212.10,390.00Z" fill="#194183"/>
<path d="M218.20,388.20L220.60,390.60L218.20,393.00L215.80,390.60Z" fill="#194183"/>
<path d="M218.20,394.50L220.60,396.90L218.20,399.30L215.80,396.90Z" fill="#194183"/>
<path d="M214.50,398.00L216.90,400.40L214.50,402.80L212.10,400.40Z" fill="#194183"/>
<path d="M221.50,399.70L223.90,402.10L221.50,404.50L219.10,402.10Z" fill="#194183"/>
<path d="M216.30,402.60L218.70,405.00L216.30,407.40L213.90,405.00Z" fill="#194183"/>
<path d="M219.70,403.80L222.10,406.20L219.70,408.60L217.30,406.20Z" fill="#194183"/>
<path d="M214.50,407.00L216.90,409.40L214.50,411.80L212.10,409.40Z" fill="#194183"/>
<path d="M221.50,408.90L223.90,411.30L221.50,413.70L219.10,411.30Z" fill="#194183"/>
<path d="M218.20,411.30L220.60,413.70L218.20,416.10L215.80,413.70Z" fill="#194183"/>
<line x1="218.20" y1="380.50" x2="218.20" y2="408.50" stroke="#4a4a4a" stroke-width="1.1"/>
<line x1="215.20" y1="380.50" x2="221.20" y2="380.50" stroke="#222" stroke-width="1.0"/>
<line x1="215.20" y1="408.50" x2="221.20" y2="408.50" stroke="#222" stroke-width="1.0"/>
<line x1="211.70" y1="394.60" x2="224.70" y2="394.60" stroke="#111" stroke-width="1.4"/>
<path d="M232.40,391.40H237.00L234.70,395.60Z" fill="#e38a0d"/>
<path d="M239.40,394.20H244.00L241.70,398.40Z" fill="#e38a0d"/>
<path d="M232.40,398.30H237.00L234.70,402.50Z" fill="#e38a0d"/>
<path d="M239.90,398.90H244.50L242.20,403.10Z" fill="#e38a0d"/>
<path d="M236.50,396.60H241.10L238.80,400.80Z" fill="#e38a0d"/>
<path d="M238.20,404.10H242.80L240.50,408.30Z" fill="#e38a0d"/>
<path d="M232.40,408.10H237.00L234.70,412.30Z" fill="#e38a0d"/>
<path d="M236.50,408.70H241.10L238.80,412.90Z" fill="#e38a0d"/>
<path d="M239.90,408.70H244.50L242.20,412.90Z" fill="#e38a0d"/>
<path d="M234.70,411.00H239.30L237.00,415.20Z" fill="#e38a0d"/>
<path d="M233.60,392.50H238.20L235.90,396.70Z" fill="#e38a0d"/>
<path d="M237.00,400.60H241.60L239.30,404.80Z" fill="#e38a0d"/>
<line x1="238.50" y1="397.50" x2="238.50" y2="411.30" stroke="#4a4a4a" stroke-width="1.1"/>
<line x1="235.50" y1="397.50" x2="241.50" y2="397.50" stroke="#222" stroke-width="1.0"/>
<line x1="235.50" y1="411.30" x2="241.50" y2="411.30" stroke="#222" stroke-width="1.0"/>
<line x1="231.80" y1="404.40" x2="244.80" y2="404.40" stroke="#111" stroke-width="1.4"/>
<line x1="120.00" y1="336.20" x2="161.50" y2="336.20" stroke="#444" stroke-width="1.0"/>
<text x="140.75" y="337.10" font-size="8.2" text-anchor="middle" textLength="13.2" lengthAdjust="spacingAndGlyphs">****</text>
<line x1="120.00" y1="345.00" x2="140.10" y2="345.00" stroke="#444" stroke-width="1.0"/>
<text x="130.05" y="345.90" font-size="8.2" text-anchor="middle" textLength="13.2" lengthAdjust="spacingAndGlyphs">****</text>
<line x1="141.90" y1="345.00" x2="162.70" y2="345.00" stroke="#444" stroke-width="1.0"/>
<text x="152.30" y="345.90" font-size="8.2" text-anchor="middle" textLength="13.2" lengthAdjust="spacingAndGlyphs">****</text>
<line x1="196.10" y1="342.10" x2="216.70" y2="342.10" stroke="#444" stroke-width="1.0"/>
<text x="206.40" y="343.00" font-size="8.2" text-anchor="middle" textLength="9.9" lengthAdjust="spacingAndGlyphs">***</text>
<line x1="218.30" y1="342.10" x2="239.10" y2="342.10" stroke="#444" stroke-width="1.0"/>
<text x="228.70" y="343.00" font-size="8.2" text-anchor="middle" textLength="3.3" lengthAdjust="spacingAndGlyphs">*</text>
<line x1="310.80" y1="339.70" x2="310.80" y2="417.50" stroke="#1a1a1a" stroke-width="1.3"/>
<line x1="307.20" y1="416.90" x2="450.10" y2="416.90" stroke="#1a1a1a" stroke-width="1.5"/>
<line x1="307.20" y1="416.90" x2="310.80" y2="416.90" stroke="#1a1a1a" stroke-width="1.1"/>
<text x="305.60" y="420.10" font-size="8.9" text-anchor="end" textLength="4.45" lengthAdjust="spacingAndGlyphs">0</text>
<line x1="307.20" y1="402.05" x2="310.80" y2="402.05" stroke="#1a1a1a" stroke-width="1.1"/>
<text x="305.60" y="405.25" font-size="8.9" text-anchor="end" textLength="11.12" lengthAdjust="spacingAndGlyphs">0.5</text>
<line x1="307.20" y1="387.20" x2="310.80" y2="387.20" stroke="#1a1a1a" stroke-width="1.1"/>
<text x="305.60" y="390.40" font-size="8.9" text-anchor="end" textLength="4.45" lengthAdjust="spacingAndGlyphs">1</text>
<line x1="307.20" y1="372.35" x2="310.80" y2="372.35" stroke="#1a1a1a" stroke-width="1.1"/>
<text x="305.60" y="375.55" font-size="8.9" text-anchor="end" textLength="11.12" lengthAdjust="spacingAndGlyphs">1.5</text>
<line x1="307.20" y1="357.50" x2="310.80" y2="357.50" stroke="#1a1a1a" stroke-width="1.1"/>
<text x="305.60" y="360.70" font-size="8.9" text-anchor="end" textLength="4.45" lengthAdjust="spacingAndGlyphs">2</text>
<line x1="307.20" y1="342.65" x2="310.80" y2="342.65" stroke="#1a1a1a" stroke-width="1.1"/>
<text x="305.60" y="345.85" font-size="8.9" text-anchor="end" textLength="11.12" lengthAdjust="spacingAndGlyphs">2.5</text>
<line x1="320.80" y1="416.90" x2="320.80" y2="420.10" stroke="#1a1a1a" stroke-width="1.1"/>
<line x1="340.40" y1="416.90" x2="340.40" y2="420.10" stroke="#1a1a1a" stroke-width="1.1"/>
<line x1="360.50" y1="416.90" x2="360.50" y2="420.10" stroke="#1a1a1a" stroke-width="1.1"/>
<line x1="399.90" y1="416.90" x2="399.90" y2="420.10" stroke="#1a1a1a" stroke-width="1.1"/>
<line x1="420.20" y1="416.90" x2="420.20" y2="420.10" stroke="#1a1a1a" stroke-width="1.1"/>
<line x1="439.90" y1="416.90" x2="439.90" y2="420.10" stroke="#1a1a1a" stroke-width="1.1"/>
<line x1="380.00" y1="339.40" x2="380.00" y2="416.90" stroke="#262626" stroke-width="1.1"/>
<line x1="380.00" y1="416.90" x2="380.00" y2="420.10" stroke="#1a1a1a" stroke-width="1.1"/>
<text transform="translate(287.20,378.30) rotate(-90)" font-size="9.6" text-anchor="middle" textLength="78.8" lengthAdjust="spacingAndGlyphs">Total IFNγ<tspan dy="-3.46" font-size="5.95">+</tspan><tspan dy="3.46"> cells (x10</tspan><tspan dy="-3.46" font-size="5.95">6</tspan><tspan dy="3.46">)</tspan></text>
<circle cx="316.50" cy="415.50" r="2.35" fill="#58a42e"/>
<circle cx="319.00" cy="414.50" r="2.35" fill="#58a42e"/>
<circle cx="321.50" cy="414.20" r="2.35" fill="#58a42e"/>
<circle cx="324.00" cy="414.60" r="2.35" fill="#58a42e"/>
<circle cx="326.00" cy="415.50" r="2.35" fill="#58a42e"/>
<circle cx="318.00" cy="416.00" r="2.35" fill="#58a42e"/>
<circle cx="321.00" cy="415.80" r="2.35" fill="#58a42e"/>
<circle cx="323.50" cy="416.00" r="2.35" fill="#58a42e"/>
<circle cx="315.00" cy="416.00" r="2.35" fill="#58a42e"/>
<line x1="320.70" y1="414.50" x2="320.70" y2="415.90" stroke="#4a4a4a" stroke-width="1.1"/>
<line x1="317.70" y1="414.50" x2="323.70" y2="414.50" stroke="#222" stroke-width="1.0"/>
<line x1="317.70" y1="415.90" x2="323.70" y2="415.90" stroke="#222" stroke-width="1.0"/>
<line x1="314.80" y1="415.20" x2="326.60" y2="415.20" stroke="#111" stroke-width="1.4"/>
<path d="M333.90,381.10L336.30,383.50L333.90,385.90L331.50,383.50Z" fill="#194183"/>
<path d="M347.50,381.60L349.90,384.00L347.50,386.40L345.10,384.00Z" fill="#194183"/>
<path d="M344.30,386.00L346.70,388.40L344.30,390.80L341.90,388.40Z" fill="#194183"/>
<path d="M337.40,387.70L339.80,390.10L337.40,392.50L335.00,390.10Z" fill="#194183"/>
<path d="M342.20,390.00L344.60,392.40L342.20,394.80L339.80,392.40Z" fill="#194183"/>
<path d="M339.10,390.00L341.50,392.40L339.10,394.80L336.70,392.40Z" fill="#194183"/>
<path d="M337.40,394.60L339.80,397.00L337.40,399.40L335.00,397.00Z" fill="#194183"/>
<path d="M344.30,396.90L346.70,399.30L344.30,401.70L341.90,399.30Z" fill="#194183"/>
<path d="M339.70,398.10L342.10,400.50L339.70,402.90L337.30,400.50Z" fill="#194183"/>
<path d="M342.60,399.30L345.00,401.70L342.60,404.10L340.20,401.70Z" fill="#194183"/>
<path d="M337.60,401.60L340.00,404.00L337.60,406.40L335.20,404.00Z" fill="#194183"/>
<path d="M344.30,402.10L346.70,404.50L344.30,406.90L341.90,404.50Z" fill="#194183"/>
<path d="M340.80,403.30L343.20,405.70L340.80,408.10L338.40,405.70Z" fill="#194183"/>
<path d="M342.00,406.50L344.40,408.90L342.00,411.30L339.60,408.90Z" fill="#194183"/>
<path d="M340.30,407.70L342.70,410.10L340.30,412.50L337.90,410.10Z" fill="#194183"/>
<line x1="340.60" y1="389.30" x2="340.60" y2="405.50" stroke="#4a4a4a" stroke-width="1.1"/>
<line x1="337.60" y1="389.30" x2="343.60" y2="389.30" stroke="#222" stroke-width="1.0"/>
<line x1="337.60" y1="405.50" x2="343.60" y2="405.50" stroke="#222" stroke-width="1.0"/>
<line x1="333.30" y1="397.80" x2="346.60" y2="397.80" stroke="#111" stroke-width="1.4"/>
<path d="M361.40,388.80H366.00L363.70,393.00Z" fill="#e38a0d"/>
<path d="M351.20,392.10H355.80L353.50,396.30Z" fill="#e38a0d"/>
<path d="M355.30,394.90H359.90L357.60,399.10Z" fill="#e38a0d"/>
<path d="M364.90,399.60H369.50L367.20,403.80Z" fill="#e38a0d"/>
<path d="M355.90,405.90H360.50L358.20,410.10Z" fill="#e38a0d"/>
<path d="M360.50,405.90H365.10L362.80,410.10Z" fill="#e38a0d"/>
<path d="M354.10,407.60H358.70L356.40,411.80Z" fill="#e38a0d"/>
<path d="M358.20,408.20H362.80L360.50,412.40Z" fill="#e38a0d"/>
<path d="M362.20,407.10H366.80L364.50,411.30Z" fill="#e38a0d"/>
<path d="M357.00,409.40H361.60L359.30,413.60Z" fill="#e38a0d"/>
<line x1="360.50" y1="399.60" x2="360.50" y2="412.60" stroke="#4a4a4a" stroke-width="1.1"/>
<line x1="357.50" y1="399.60" x2="363.50" y2="399.60" stroke="#222" stroke-width="1.0"/>
<line x1="357.50" y1="412.60" x2="363.50" y2="412.60" stroke="#222" stroke-width="1.0"/>
<line x1="354.10" y1="406.00" x2="367.20" y2="406.00" stroke="#111" stroke-width="1.4"/>
<circle cx="399.70" cy="394.60" r="2.35" fill="#58a42e"/>
<circle cx="403.80" cy="399.20" r="2.35" fill="#58a42e"/>
<circle cx="396.60" cy="403.80" r="2.35" fill="#58a42e"/>
<circle cx="402.80" cy="404.50" r="2.35" fill="#58a42e"/>
<circle cx="397.80" cy="407.50" r="2.35" fill="#58a42e"/>
<circle cx="403.40" cy="408.20" r="2.35" fill="#58a42e"/>
<circle cx="399.10" cy="410.60" r="2.35" fill="#58a42e"/>
<circle cx="396.60" cy="410.00" r="2.35" fill="#58a42e"/>
<circle cx="401.50" cy="411.80" r="2.35" fill="#58a42e"/>
<circle cx="399.70" cy="413.70" r="2.35" fill="#58a42e"/>
<line x1="400.10" y1="400.80" x2="400.10" y2="413.40" stroke="#4a4a4a" stroke-width="1.1"/>
<line x1="397.10" y1="400.80" x2="403.10" y2="400.80" stroke="#222" stroke-width="1.0"/>
<line x1="397.10" y1="413.40" x2="403.10" y2="413.40" stroke="#222" stroke-width="1.0"/>
<line x1="393.50" y1="406.90" x2="407.10" y2="406.90" stroke="#111" stroke-width="1.4"/>
<path d="M423.40,348.80L425.80,351.20L423.40,353.60L421.00,351.20Z" fill="#194183"/>
<path d="M413.20,352.00L415.60,354.40L413.20,356.80L410.80,354.40Z" fill="#194183"/>
<path d="M416.60,355.30L419.00,357.70L416.60,360.10L414.20,357.70Z" fill="#194183"/>
<path d="M423.40,360.80L425.80,363.20L423.40,365.60L421.00,363.20Z" fill="#194183"/>
<path d="M426.80,366.70L429.20,369.10L426.80,371.50L424.40,369.10Z" fill="#194183"/>
<path d="M413.20,368.20L415.60,370.60L413.20,373.00L410.80,370.60Z" fill="#194183"/>
<path d="M416.90,370.10L419.30,372.50L416.90,374.90L414.50,372.50Z" fill="#194183"/>
<path d="M423.70,370.10L426.10,372.50L423.70,374.90L421.30,372.50Z" fill="#194183"/>
<path d="M418.80,374.40L421.20,376.80L418.80,379.20L416.40,376.80Z" fill="#194183"/>
<path d="M421.80,375.80L424.20,378.20L421.80,380.60L419.40,378.20Z" fill="#194183"/>
<path d="M423.70,380.50L426.10,382.90L423.70,385.30L421.30,382.90Z" fill="#194183"/>
<path d="M413.20,386.90L415.60,389.30L413.20,391.70L410.80,389.30Z" fill="#194183"/>
<path d="M416.90,387.30L419.30,389.70L416.90,392.10L414.50,389.70Z" fill="#194183"/>
<path d="M423.70,393.80L426.10,396.20L423.70,398.60L421.30,396.20Z" fill="#194183"/>
<path d="M420.20,401.20L422.60,403.60L420.20,406.00L417.80,403.60Z" fill="#194183"/>
<line x1="420.20" y1="360.20" x2="420.20" y2="390.30" stroke="#4a4a4a" stroke-width="1.1"/>
<line x1="417.20" y1="360.20" x2="423.20" y2="360.20" stroke="#222" stroke-width="1.0"/>
<line x1="417.20" y1="390.30" x2="423.20" y2="390.30" stroke="#222" stroke-width="1.0"/>
<line x1="413.20" y1="375.50" x2="427.10" y2="375.50" stroke="#111" stroke-width="1.4"/>
<path d="M437.60,363.30H442.20L439.90,367.50Z" fill="#e38a0d"/>
<path d="M434.30,370.00H438.90L436.60,374.20Z" fill="#e38a0d"/>
<path d="M441.10,371.20H445.70L443.40,375.40Z" fill="#e38a0d"/>
<path d="M444.50,381.40H449.10L446.80,385.60Z" fill="#e38a0d"/>
<path d="M431.20,383.90H435.80L433.50,388.10Z" fill="#e38a0d"/>
<path d="M434.90,389.20H439.50L437.20,393.40Z" fill="#e38a0d"/>
<path d="M441.10,389.40H445.70L443.40,393.60Z" fill="#e38a0d"/>
<path d="M438.00,392.50H442.60L440.30,396.70Z" fill="#e38a0d"/>
<path d="M439.90,394.40H444.50L442.20,398.60Z" fill="#e38a0d"/>
<path d="M433.10,396.80H437.70L435.40,401.00Z" fill="#e38a0d"/>
<path d="M437.40,401.10H442.00L439.70,405.30Z" fill="#e38a0d"/>
<path d="M441.10,401.10H445.70L443.40,405.30Z" fill="#e38a0d"/>
<line x1="440.30" y1="378.00" x2="440.30" y2="400.20" stroke="#4a4a4a" stroke-width="1.1"/>
<line x1="437.30" y1="378.00" x2="443.30" y2="378.00" stroke="#222" stroke-width="1.0"/>
<line x1="437.30" y1="400.20" x2="443.30" y2="400.20" stroke="#222" stroke-width="1.0"/>
<line x1="433.50" y1="389.30" x2="446.80" y2="389.30" stroke="#111" stroke-width="1.4"/>
<line x1="323.50" y1="333.00" x2="364.60" y2="333.00" stroke="#444" stroke-width="1.0"/>
<text x="344.05" y="333.90" font-size="8.2" text-anchor="middle" textLength="6.6" lengthAdjust="spacingAndGlyphs">**</text>
<line x1="323.50" y1="342.20" x2="343.80" y2="342.20" stroke="#444" stroke-width="1.0"/>
<text x="333.65" y="343.10" font-size="8.2" text-anchor="middle" textLength="13.2" lengthAdjust="spacingAndGlyphs">****</text>
<line x1="345.70" y1="342.20" x2="366.50" y2="342.20" stroke="#444" stroke-width="1.0"/>
<text x="356.10" y="343.10" font-size="8.2" text-anchor="middle" textLength="6.6" lengthAdjust="spacingAndGlyphs">**</text>
<line x1="399.30" y1="332.20" x2="440.50" y2="332.20" stroke="#444" stroke-width="1.0"/>
<text x="419.90" y="333.10" font-size="8.2" text-anchor="middle" textLength="6.6" lengthAdjust="spacingAndGlyphs">**</text>
<line x1="399.30" y1="341.50" x2="419.80" y2="341.50" stroke="#444" stroke-width="1.0"/>
<text x="409.55" y="342.40" font-size="8.2" text-anchor="middle" textLength="13.2" lengthAdjust="spacingAndGlyphs">****</text>
<line x1="421.70" y1="341.50" x2="442.80" y2="341.50" stroke="#444" stroke-width="1.0"/>
<text x="432.25" y="342.40" font-size="8.2" text-anchor="middle" textLength="3.3" lengthAdjust="spacingAndGlyphs">*</text>
<line x1="107.30" y1="476.50" x2="107.30" y2="553.80" stroke="#1a1a1a" stroke-width="1.3"/>
<line x1="103.70" y1="553.20" x2="247.60" y2="553.20" stroke="#1a1a1a" stroke-width="1.5"/>
<line x1="103.70" y1="553.20" x2="107.30" y2="553.20" stroke="#1a1a1a" stroke-width="1.1"/>
<text x="102.10" y="556.40" font-size="8.9" text-anchor="end" textLength="4.45" lengthAdjust="spacingAndGlyphs">0</text>
<line x1="103.70" y1="538.20" x2="107.30" y2="538.20" stroke="#1a1a1a" stroke-width="1.1"/>
<text x="102.10" y="541.40" font-size="8.9" text-anchor="end" textLength="4.45" lengthAdjust="spacingAndGlyphs">1</text>
<line x1="103.70" y1="523.20" x2="107.30" y2="523.20" stroke="#1a1a1a" stroke-width="1.1"/>
<text x="102.10" y="526.40" font-size="8.9" text-anchor="end" textLength="4.45" lengthAdjust="spacingAndGlyphs">2</text>
<line x1="103.70" y1="508.20" x2="107.30" y2="508.20" stroke="#1a1a1a" stroke-width="1.1"/>
<text x="102.10" y="511.40" font-size="8.9" text-anchor="end" textLength="4.45" lengthAdjust="spacingAndGlyphs">3</text>
<line x1="103.70" y1="493.20" x2="107.30" y2="493.20" stroke="#1a1a1a" stroke-width="1.1"/>
<text x="102.10" y="496.40" font-size="8.9" text-anchor="end" textLength="4.45" lengthAdjust="spacingAndGlyphs">4</text>
<line x1="103.70" y1="478.20" x2="107.30" y2="478.20" stroke="#1a1a1a" stroke-width="1.1"/>
<text x="102.10" y="481.40" font-size="8.9" text-anchor="end" textLength="4.45" lengthAdjust="spacingAndGlyphs">5</text>
<line x1="117.20" y1="553.20" x2="117.20" y2="556.40" stroke="#1a1a1a" stroke-width="1.1"/>
<line x1="137.30" y1="553.20" x2="137.30" y2="556.40" stroke="#1a1a1a" stroke-width="1.1"/>
<line x1="157.40" y1="553.20" x2="157.40" y2="556.40" stroke="#1a1a1a" stroke-width="1.1"/>
<line x1="197.00" y1="553.20" x2="197.00" y2="556.40" stroke="#1a1a1a" stroke-width="1.1"/>
<line x1="216.90" y1="553.20" x2="216.90" y2="556.40" stroke="#1a1a1a" stroke-width="1.1"/>
<line x1="237.00" y1="553.20" x2="237.00" y2="556.40" stroke="#1a1a1a" stroke-width="1.1"/>
<line x1="177.60" y1="476.10" x2="177.60" y2="553.20" stroke="#262626" stroke-width="1.1"/>
<line x1="177.60" y1="553.20" x2="177.60" y2="556.40" stroke="#1a1a1a" stroke-width="1.1"/>
<text transform="translate(90.90,514.45) rotate(-90)" font-size="9.6" text-anchor="middle" textLength="89.9" lengthAdjust="spacingAndGlyphs">Total GMCSF<tspan dy="-3.46" font-size="5.95">+</tspan><tspan dy="3.46"> cells (x10</tspan><tspan dy="-3.46" font-size="5.95">5</tspan><tspan dy="3.46">)</tspan></text>
<circle cx="117.30" cy="532.80" r="2.35" fill="#58a42e"/>
<circle cx="110.50" cy="542.10" r="2.35" fill="#58a42e"/>
<circle cx="123.90" cy="543.90" r="2.35" fill="#58a42e"/>
<circle cx="114.30" cy="546.80" r="2.35" fill="#58a42e"/>
<circle cx="119.10" cy="548.00" r="2.35" fill="#58a42e"/>
<circle cx="115.50" cy="549.80" r="2.35" fill="#58a42e"/>
<circle cx="117.90" cy="551.00" r="2.35" fill="#58a42e"/>
<circle cx="120.30" cy="550.40" r="2.35" fill="#58a42e"/>
<circle cx="116.70" cy="551.60" r="2.35" fill="#58a42e"/>
<line x1="117.30" y1="540.90" x2="117.30" y2="553.00" stroke="#4a4a4a" stroke-width="1.1"/>
<line x1="114.30" y1="540.90" x2="120.30" y2="540.90" stroke="#222" stroke-width="1.0"/>
<line x1="114.30" y1="553.00" x2="120.30" y2="553.00" stroke="#222" stroke-width="1.0"/>
<line x1="110.80" y1="546.80" x2="123.90" y2="546.80" stroke="#111" stroke-width="1.4"/>
<path d="M134.00,496.20L136.40,498.60L134.00,501.00L131.60,498.60Z" fill="#194183"/>
<path d="M140.60,494.40L143.00,496.80L140.60,499.20L138.20,496.80Z" fill="#194183"/>
<path d="M138.80,498.50L141.20,500.90L138.80,503.30L136.40,500.90Z" fill="#194183"/>
<path d="M136.40,499.70L138.80,502.10L136.40,504.50L134.00,502.10Z" fill="#194183"/>
<path d="M133.40,504.50L135.80,506.90L133.40,509.30L131.00,506.90Z" fill="#194183"/>
<path d="M140.60,505.70L143.00,508.10L140.60,510.50L138.20,508.10Z" fill="#194183"/>
<path d="M136.40,507.50L138.80,509.90L136.40,512.30L134.00,509.90Z" fill="#194183"/>
<path d="M134.60,509.90L137.00,512.30L134.60,514.70L132.20,512.30Z" fill="#194183"/>
<path d="M139.40,509.90L141.80,512.30L139.40,514.70L137.00,512.30Z" fill="#194183"/>
<path d="M134.00,514.00L136.40,516.40L134.00,518.80L131.60,516.40Z" fill="#194183"/>
<path d="M136.40,517.60L138.80,520.00L136.40,522.40L134.00,520.00Z" fill="#194183"/>
<path d="M140.00,518.20L142.40,520.60L140.00,523.00L137.60,520.60Z" fill="#194183"/>
<path d="M136.40,520.00L138.80,522.40L136.40,524.80L134.00,522.40Z" fill="#194183"/>
<path d="M138.20,519.40L140.60,521.80L138.20,524.20L135.80,521.80Z" fill="#194183"/>
<line x1="137.60" y1="502.10" x2="137.60" y2="519.70" stroke="#4a4a4a" stroke-width="1.1"/>
<line x1="134.60" y1="502.10" x2="140.60" y2="502.10" stroke="#222" stroke-width="1.0"/>
<line x1="134.60" y1="519.70" x2="140.60" y2="519.70" stroke="#222" stroke-width="1.0"/>
<line x1="130.40" y1="510.80" x2="143.90" y2="510.80" stroke="#111" stroke-width="1.4"/>
<path d="M155.00,502.40H159.60L157.30,506.60Z" fill="#e38a0d"/>
<path d="M155.00,511.40H159.60L157.30,515.60Z" fill="#e38a0d"/>
<path d="M151.40,517.90H156.00L153.70,522.10Z" fill="#e38a0d"/>
<path d="M158.50,516.70H163.10L160.80,520.90Z" fill="#e38a0d"/>
<path d="M153.80,520.30H158.40L156.10,524.50Z" fill="#e38a0d"/>
<path d="M156.80,521.50H161.40L159.10,525.70Z" fill="#e38a0d"/>
<path d="M150.80,523.90H155.40L153.10,528.10Z" fill="#e38a0d"/>
<path d="M158.50,524.50H163.10L160.80,528.70Z" fill="#e38a0d"/>
<path d="M153.80,525.70H158.40L156.10,529.90Z" fill="#e38a0d"/>
<path d="M156.80,527.50H161.40L159.10,531.70Z" fill="#e38a0d"/>
<path d="M155.60,530.40H160.20L157.90,534.60Z" fill="#e38a0d"/>
<line x1="157.50" y1="516.80" x2="157.50" y2="531.30" stroke="#4a4a4a" stroke-width="1.1"/>
<line x1="154.50" y1="516.80" x2="160.50" y2="516.80" stroke="#222" stroke-width="1.0"/>
<line x1="154.50" y1="531.30" x2="160.50" y2="531.30" stroke="#222" stroke-width="1.0"/>
<line x1="150.70" y1="524.20" x2="163.80" y2="524.20" stroke="#111" stroke-width="1.4"/>
<circle cx="197.00" cy="540.00" r="2.35" fill="#58a42e"/>
<circle cx="193.20" cy="543.80" r="2.35" fill="#58a42e"/>
<circle cx="200.90" cy="544.40" r="2.35" fill="#58a42e"/>
<circle cx="194.90" cy="546.80" r="2.35" fill="#58a42e"/>
<circle cx="199.10" cy="546.20" r="2.35" fill="#58a42e"/>
<circle cx="196.70" cy="549.10" r="2.35" fill="#58a42e"/>
<circle cx="194.30" cy="548.50" r="2.35" fill="#58a42e"/>
<circle cx="199.70" cy="549.10" r="2.35" fill="#58a42e"/>
<line x1="197.00" y1="543.80" x2="197.00" y2="549.70" stroke="#4a4a4a" stroke-width="1.1"/>
<line x1="194.00" y1="543.80" x2="200.00" y2="543.80" stroke="#222" stroke-width="1.0"/>
<line x1="194.00" y1="549.70" x2="200.00" y2="549.70" stroke="#222" stroke-width="1.0"/>
<line x1="190.80" y1="547.30" x2="203.90" y2="547.30" stroke="#111" stroke-width="1.4"/>
<path d="M210.40,512.80L212.80,515.20L210.40,517.60L208.00,515.20Z" fill="#194183"/>
<path d="M223.90,514.90L226.30,517.30L223.90,519.70L221.50,517.30Z" fill="#194183"/>
<path d="M214.00,518.70L216.40,521.10L214.00,523.50L211.60,521.10Z" fill="#194183"/>
<path d="M217.60,518.70L220.00,521.10L217.60,523.50L215.20,521.10Z" fill="#194183"/>
<path d="M220.60,519.30L223.00,521.70L220.60,524.10L218.20,521.70Z" fill="#194183"/>
<path d="M215.80,521.10L218.20,523.50L215.80,525.90L213.40,523.50Z" fill="#194183"/>
<path d="M218.80,521.70L221.20,524.10L218.80,526.50L216.40,524.10Z" fill="#194183"/>
<path d="M214.00,530.00L216.40,532.40L214.00,534.80L211.60,532.40Z" fill="#194183"/>
<path d="M217.00,531.20L219.40,533.60L217.00,536.00L214.60,533.60Z" fill="#194183"/>
<path d="M220.60,531.80L223.00,534.20L220.60,536.60L218.20,534.20Z" fill="#194183"/>
<path d="M215.20,533.00L217.60,535.40L215.20,537.80L212.80,535.40Z" fill="#194183"/>
<path d="M220.60,535.40L223.00,537.80L220.60,540.20L218.20,537.80Z" fill="#194183"/>
<path d="M213.70,540.40L216.10,542.80L213.70,545.20L211.30,542.80Z" fill="#194183"/>
<line x1="217.20" y1="519.90" x2="217.20" y2="535.70" stroke="#4a4a4a" stroke-width="1.1"/>
<line x1="214.20" y1="519.90" x2="220.20" y2="519.90" stroke="#222" stroke-width="1.0"/>
<line x1="214.20" y1="535.70" x2="220.20" y2="535.70" stroke="#222" stroke-width="1.0"/>
<line x1="210.40" y1="527.70" x2="223.90" y2="527.70" stroke="#111" stroke-width="1.4"/>
<path d="M234.70,519.30H239.30L237.00,523.50Z" fill="#e38a0d"/>
<path d="M230.80,525.60H235.40L233.10,529.80Z" fill="#e38a0d"/>
<path d="M238.00,525.00H242.60L240.30,529.20Z" fill="#e38a0d"/>
<path d="M230.80,529.20H235.40L233.10,533.40Z" fill="#e38a0d"/>
<path d="M234.40,529.20H239.00L236.70,533.40Z" fill="#e38a0d"/>
<path d="M238.00,529.70H242.60L240.30,533.90Z" fill="#e38a0d"/>
<path d="M231.40,534.50H236.00L233.70,538.70Z" fill="#e38a0d"/>
<path d="M238.00,535.10H242.60L240.30,539.30Z" fill="#e38a0d"/>
<path d="M231.40,539.30H236.00L233.70,543.50Z" fill="#e38a0d"/>
<path d="M235.00,538.10H239.60L237.30,542.30Z" fill="#e38a0d"/>
<path d="M238.50,539.90H243.10L240.80,544.10Z" fill="#e38a0d"/>
<path d="M234.70,544.70H239.30L237.00,548.90Z" fill="#e38a0d"/>
<line x1="237.30" y1="528.30" x2="237.30" y2="541.40" stroke="#4a4a4a" stroke-width="1.1"/>
<line x1="234.30" y1="528.30" x2="240.30" y2="528.30" stroke="#222" stroke-width="1.0"/>
<line x1="234.30" y1="541.40" x2="240.30" y2="541.40" stroke="#222" stroke-width="1.0"/>
<line x1="230.70" y1="534.80" x2="243.80" y2="534.80" stroke="#111" stroke-width="1.4"/>
<line x1="119.50" y1="472.40" x2="160.90" y2="472.40" stroke="#444" stroke-width="1.0"/>
<text x="140.20" y="473.30" font-size="8.2" text-anchor="middle" textLength="13.2" lengthAdjust="spacingAndGlyphs">****</text>
<line x1="119.50" y1="481.80" x2="139.60" y2="481.80" stroke="#444" stroke-width="1.0"/>
<text x="129.55" y="482.70" font-size="8.2" text-anchor="middle" textLength="13.2" lengthAdjust="spacingAndGlyphs">****</text>
<line x1="141.20" y1="481.80" x2="162.00" y2="481.80" stroke="#444" stroke-width="1.0"/>
<text x="151.60" y="482.70" font-size="8.2" text-anchor="middle" textLength="13.2" lengthAdjust="spacingAndGlyphs">****</text>
<line x1="196.10" y1="471.70" x2="236.60" y2="471.70" stroke="#444" stroke-width="1.0"/>
<text x="216.35" y="472.60" font-size="8.2" text-anchor="middle" textLength="9.9" lengthAdjust="spacingAndGlyphs">***</text>
<line x1="196.10" y1="480.80" x2="216.30" y2="480.80" stroke="#444" stroke-width="1.0"/>
<text x="206.20" y="481.70" font-size="8.2" text-anchor="middle" textLength="13.2" lengthAdjust="spacingAndGlyphs">****</text>
<line x1="218.30" y1="480.80" x2="238.60" y2="480.80" stroke="#444" stroke-width="1.0"/>
<text x="228.45" y="481.70" font-size="8.2" text-anchor="middle" textLength="3.3" lengthAdjust="spacingAndGlyphs">*</text>
<line x1="311.00" y1="476.50" x2="311.00" y2="553.70" stroke="#1a1a1a" stroke-width="1.3"/>
<line x1="307.40" y1="553.10" x2="451.10" y2="553.10" stroke="#1a1a1a" stroke-width="1.5"/>
<line x1="307.40" y1="553.10" x2="311.00" y2="553.10" stroke="#1a1a1a" stroke-width="1.1"/>
<text x="305.80" y="556.30" font-size="8.9" text-anchor="end" textLength="4.45" lengthAdjust="spacingAndGlyphs">0</text>
<line x1="307.40" y1="534.35" x2="311.00" y2="534.35" stroke="#1a1a1a" stroke-width="1.1"/>
<text x="305.80" y="537.55" font-size="8.9" text-anchor="end" textLength="11.12" lengthAdjust="spacingAndGlyphs">0.5</text>
<line x1="307.40" y1="515.60" x2="311.00" y2="515.60" stroke="#1a1a1a" stroke-width="1.1"/>
<text x="305.80" y="518.80" font-size="8.9" text-anchor="end" textLength="4.45" lengthAdjust="spacingAndGlyphs">1</text>
<line x1="307.40" y1="496.85" x2="311.00" y2="496.85" stroke="#1a1a1a" stroke-width="1.1"/>
<text x="305.80" y="500.05" font-size="8.9" text-anchor="end" textLength="11.12" lengthAdjust="spacingAndGlyphs">1.5</text>
<line x1="307.40" y1="478.10" x2="311.00" y2="478.10" stroke="#1a1a1a" stroke-width="1.1"/>
<text x="305.80" y="481.30" font-size="8.9" text-anchor="end" textLength="4.45" lengthAdjust="spacingAndGlyphs">2</text>
<line x1="320.80" y1="553.10" x2="320.80" y2="556.30" stroke="#1a1a1a" stroke-width="1.1"/>
<line x1="340.90" y1="553.10" x2="340.90" y2="556.30" stroke="#1a1a1a" stroke-width="1.1"/>
<line x1="360.70" y1="553.10" x2="360.70" y2="556.30" stroke="#1a1a1a" stroke-width="1.1"/>
<line x1="400.50" y1="553.10" x2="400.50" y2="556.30" stroke="#1a1a1a" stroke-width="1.1"/>
<line x1="420.60" y1="553.10" x2="420.60" y2="556.30" stroke="#1a1a1a" stroke-width="1.1"/>
<line x1="440.80" y1="553.10" x2="440.80" y2="556.30" stroke="#1a1a1a" stroke-width="1.1"/>
<line x1="380.70" y1="475.40" x2="380.70" y2="553.10" stroke="#262626" stroke-width="1.1"/>
<line x1="380.70" y1="553.10" x2="380.70" y2="556.30" stroke="#1a1a1a" stroke-width="1.1"/>
<text transform="translate(286.90,514.45) rotate(-90)" font-size="9.6" text-anchor="middle" textLength="88.5" lengthAdjust="spacingAndGlyphs">Total GMCSF<tspan dy="-3.46" font-size="5.95">+</tspan><tspan dy="3.46"> cells (x10</tspan><tspan dy="-3.46" font-size="5.95">6</tspan><tspan dy="3.46">)</tspan></text>
<circle cx="316.50" cy="551.80" r="2.35" fill="#58a42e"/>
<circle cx="319.00" cy="550.60" r="2.35" fill="#58a42e"/>
<circle cx="321.50" cy="550.30" r="2.35" fill="#58a42e"/>
<circle cx="324.00" cy="550.70" r="2.35" fill="#58a42e"/>
<circle cx="326.00" cy="551.80" r="2.35" fill="#58a42e"/>
<circle cx="318.00" cy="552.40" r="2.35" fill="#58a42e"/>
<circle cx="321.00" cy="552.00" r="2.35" fill="#58a42e"/>
<circle cx="323.50" cy="552.20" r="2.35" fill="#58a42e"/>
<circle cx="315.00" cy="552.20" r="2.35" fill="#58a42e"/>
<line x1="320.70" y1="551.00" x2="320.70" y2="552.60" stroke="#4a4a4a" stroke-width="1.1"/>
<line x1="317.70" y1="551.00" x2="323.70" y2="551.00" stroke="#222" stroke-width="1.0"/>
<line x1="317.70" y1="552.60" x2="323.70" y2="552.60" stroke="#222" stroke-width="1.0"/>
<line x1="315.00" y1="551.80" x2="326.50" y2="551.80" stroke="#111" stroke-width="1.4"/>
<path d="M340.80,514.40L343.20,516.80L340.80,519.20L338.40,516.80Z" fill="#194183"/>
<path d="M337.20,520.90L339.60,523.30L337.20,525.70L334.80,523.30Z" fill="#194183"/>
<path d="M346.00,526.30L348.40,528.70L346.00,531.10L343.60,528.70Z" fill="#194183"/>
<path d="M340.60,526.70L343.00,529.10L340.60,531.50L338.20,529.10Z" fill="#194183"/>
<path d="M337.40,530.10L339.80,532.50L337.40,534.90L335.00,532.50Z" fill="#194183"/>
<path d="M344.30,529.20L346.70,531.60L344.30,534.00L341.90,531.60Z" fill="#194183"/>
<path d="M336.80,540.20L339.20,542.60L336.80,545.00L334.40,542.60Z" fill="#194183"/>
<path d="M344.30,539.60L346.70,542.00L344.30,544.40L341.90,542.00Z" fill="#194183"/>
<path d="M339.70,541.30L342.10,543.70L339.70,546.10L337.30,543.70Z" fill="#194183"/>
<path d="M338.50,543.10L340.90,545.50L338.50,547.90L336.10,545.50Z" fill="#194183"/>
<path d="M342.60,542.50L345.00,544.90L342.60,547.30L340.20,544.90Z" fill="#194183"/>
<path d="M340.30,544.80L342.70,547.20L340.30,549.60L337.90,547.20Z" fill="#194183"/>
<line x1="340.60" y1="527.30" x2="340.60" y2="545.50" stroke="#4a4a4a" stroke-width="1.1"/>
<line x1="337.60" y1="527.30" x2="343.60" y2="527.30" stroke="#222" stroke-width="1.0"/>
<line x1="337.60" y1="545.50" x2="343.60" y2="545.50" stroke="#222" stroke-width="1.0"/>
<line x1="333.90" y1="536.60" x2="347.20" y2="536.60" stroke="#111" stroke-width="1.4"/>
<path d="M351.80,527.00H356.40L354.10,531.20Z" fill="#e38a0d"/>
<path d="M361.60,525.50H366.20L363.90,529.70Z" fill="#e38a0d"/>
<path d="M355.30,530.70H359.90L357.60,534.90Z" fill="#e38a0d"/>
<path d="M362.20,536.20H366.80L364.50,540.40Z" fill="#e38a0d"/>
<path d="M355.30,543.40H359.90L357.60,547.60Z" fill="#e38a0d"/>
<path d="M359.30,542.80H363.90L361.60,547.00Z" fill="#e38a0d"/>
<path d="M362.80,543.40H367.40L365.10,547.60Z" fill="#e38a0d"/>
<path d="M357.00,545.70H361.60L359.30,549.90Z" fill="#e38a0d"/>
<path d="M359.90,545.70H364.50L362.20,549.90Z" fill="#e38a0d"/>
<path d="M358.20,547.40H362.80L360.50,551.60Z" fill="#e38a0d"/>
<path d="M361.00,541.10H365.60L363.30,545.30Z" fill="#e38a0d"/>
<line x1="361.00" y1="535.70" x2="361.00" y2="550.10" stroke="#4a4a4a" stroke-width="1.1"/>
<line x1="358.00" y1="535.70" x2="364.00" y2="535.70" stroke="#222" stroke-width="1.0"/>
<line x1="358.00" y1="550.10" x2="364.00" y2="550.10" stroke="#222" stroke-width="1.0"/>
<line x1="354.50" y1="542.90" x2="367.60" y2="542.90" stroke="#111" stroke-width="1.4"/>
<circle cx="394.20" cy="535.80" r="2.35" fill="#58a42e"/>
<circle cx="404.20" cy="532.80" r="2.35" fill="#58a42e"/>
<circle cx="397.20" cy="540.50" r="2.35" fill="#58a42e"/>
<circle cx="404.00" cy="540.50" r="2.35" fill="#58a42e"/>
<circle cx="400.30" cy="541.40" r="2.35" fill="#58a42e"/>
<circle cx="397.80" cy="544.50" r="2.35" fill="#58a42e"/>
<circle cx="401.50" cy="545.10" r="2.35" fill="#58a42e"/>
<circle cx="404.60" cy="547.50" r="2.35" fill="#58a42e"/>
<circle cx="399.70" cy="548.20" r="2.35" fill="#58a42e"/>
<circle cx="400.30" cy="550.60" r="2.35" fill="#58a42e"/>
<circle cx="397.80" cy="547.50" r="2.35" fill="#58a42e"/>
<line x1="400.60" y1="537.70" x2="400.60" y2="549.10" stroke="#4a4a4a" stroke-width="1.1"/>
<line x1="397.60" y1="537.70" x2="403.60" y2="537.70" stroke="#222" stroke-width="1.0"/>
<line x1="397.60" y1="549.10" x2="403.60" y2="549.10" stroke="#222" stroke-width="1.0"/>
<line x1="394.20" y1="543.50" x2="407.70" y2="543.50" stroke="#111" stroke-width="1.4"/>
<path d="M420.60,494.70L423.00,497.10L420.60,499.50L418.20,497.10Z" fill="#194183"/>
<path d="M420.60,502.10L423.00,504.50L420.60,506.90L418.20,504.50Z" fill="#194183"/>
<path d="M424.30,506.40L426.70,508.80L424.30,511.20L421.90,508.80Z" fill="#194183"/>
<path d="M416.90,508.80L419.30,511.20L416.90,513.60L414.50,511.20Z" fill="#194183"/>
<path d="M420.60,513.10L423.00,515.50L420.60,517.90L418.20,515.50Z" fill="#194183"/>
<path d="M424.30,517.40L426.70,519.80L424.30,522.20L421.90,519.80Z" fill="#194183"/>
<path d="M416.90,521.10L419.30,523.50L416.90,525.90L414.50,523.50Z" fill="#194183"/>
<path d="M420.60,522.40L423.00,524.80L420.60,527.20L418.20,524.80Z" fill="#194183"/>
<path d="M424.30,525.40L426.70,527.80L424.30,530.20L421.90,527.80Z" fill="#194183"/>
<path d="M417.50,527.30L419.90,529.70L417.50,532.10L415.10,529.70Z" fill="#194183"/>
<path d="M420.60,529.10L423.00,531.50L420.60,533.90L418.20,531.50Z" fill="#194183"/>
<path d="M422.50,527.90L424.90,530.30L422.50,532.70L420.10,530.30Z" fill="#194183"/>
<path d="M416.90,534.70L419.30,537.10L416.90,539.50L414.50,537.10Z" fill="#194183"/>
<path d="M424.30,535.70L426.70,538.10L424.30,540.50L421.90,538.10Z" fill="#194183"/>
<path d="M420.60,540.20L423.00,542.60L420.60,545.00L418.20,542.60Z" fill="#194183"/>
<line x1="420.60" y1="510.20" x2="420.60" y2="536.50" stroke="#4a4a4a" stroke-width="1.1"/>
<line x1="417.60" y1="510.20" x2="423.60" y2="510.20" stroke="#222" stroke-width="1.0"/>
<line x1="417.60" y1="536.50" x2="423.60" y2="536.50" stroke="#222" stroke-width="1.0"/>
<line x1="413.80" y1="523.50" x2="427.60" y2="523.50" stroke="#111" stroke-width="1.4"/>
<path d="M438.60,498.30H443.20L440.90,502.50Z" fill="#e38a0d"/>
<path d="M434.90,514.10H439.50L437.20,518.30Z" fill="#e38a0d"/>
<path d="M442.30,514.70H446.90L444.60,518.90Z" fill="#e38a0d"/>
<path d="M437.40,517.10H442.00L439.70,521.30Z" fill="#e38a0d"/>
<path d="M441.70,520.80H446.30L444.00,525.00Z" fill="#e38a0d"/>
<path d="M434.90,523.30H439.50L437.20,527.50Z" fill="#e38a0d"/>
<path d="M438.60,527.00H443.20L440.90,531.20Z" fill="#e38a0d"/>
<path d="M435.50,533.10H440.10L437.80,537.30Z" fill="#e38a0d"/>
<path d="M441.70,532.50H446.30L444.00,536.70Z" fill="#e38a0d"/>
<path d="M439.90,536.80H444.50L442.20,541.00Z" fill="#e38a0d"/>
<path d="M442.30,540.50H446.90L444.60,544.70Z" fill="#e38a0d"/>
<path d="M434.90,544.80H439.50L437.20,549.00Z" fill="#e38a0d"/>
<line x1="440.90" y1="515.50" x2="440.90" y2="540.20" stroke="#4a4a4a" stroke-width="1.1"/>
<line x1="437.90" y1="515.50" x2="443.90" y2="515.50" stroke="#222" stroke-width="1.0"/>
<line x1="437.90" y1="540.20" x2="443.90" y2="540.20" stroke="#222" stroke-width="1.0"/>
<line x1="434.20" y1="527.50" x2="447.70" y2="527.50" stroke="#111" stroke-width="1.4"/>
<line x1="321.90" y1="473.80" x2="363.50" y2="473.80" stroke="#444" stroke-width="1.0"/>
<text x="342.70" y="474.70" font-size="8.2" text-anchor="middle" textLength="3.3" lengthAdjust="spacingAndGlyphs">*</text>
<line x1="321.90" y1="483.00" x2="343.40" y2="483.00" stroke="#444" stroke-width="1.0"/>
<text x="332.65" y="483.90" font-size="8.2" text-anchor="middle" textLength="13.2" lengthAdjust="spacingAndGlyphs">****</text>
<line x1="395.10" y1="474.20" x2="436.60" y2="474.20" stroke="#444" stroke-width="1.0"/>
<text x="415.85" y="475.10" font-size="8.2" text-anchor="middle" textLength="6.6" lengthAdjust="spacingAndGlyphs">**</text>
<line x1="395.10" y1="482.90" x2="416.00" y2="482.90" stroke="#444" stroke-width="1.0"/>
<text x="405.55" y="483.80" font-size="8.2" text-anchor="middle" textLength="9.9" lengthAdjust="spacingAndGlyphs">***</text>
<line x1="107.10" y1="591.50" x2="107.10" y2="661.40" stroke="#1a1a1a" stroke-width="1.3"/>
<line x1="103.50" y1="660.80" x2="234.60" y2="660.80" stroke="#1a1a1a" stroke-width="1.5"/>
<line x1="103.50" y1="660.80" x2="107.10" y2="660.80" stroke="#1a1a1a" stroke-width="1.1"/>
<text x="101.90" y="664.00" font-size="8.9" text-anchor="end" textLength="4.45" lengthAdjust="spacingAndGlyphs">0</text>
<line x1="103.50" y1="643.95" x2="107.10" y2="643.95" stroke="#1a1a1a" stroke-width="1.1"/>
<text x="101.90" y="647.15" font-size="8.9" text-anchor="end" textLength="4.45" lengthAdjust="spacingAndGlyphs">1</text>
<line x1="103.50" y1="627.10" x2="107.10" y2="627.10" stroke="#1a1a1a" stroke-width="1.1"/>
<text x="101.90" y="630.30" font-size="8.9" text-anchor="end" textLength="4.45" lengthAdjust="spacingAndGlyphs">2</text>
<line x1="103.50" y1="610.25" x2="107.10" y2="610.25" stroke="#1a1a1a" stroke-width="1.1"/>
<text x="101.90" y="613.45" font-size="8.9" text-anchor="end" textLength="4.45" lengthAdjust="spacingAndGlyphs">3</text>
<line x1="103.50" y1="593.40" x2="107.10" y2="593.40" stroke="#1a1a1a" stroke-width="1.1"/>
<text x="101.90" y="596.60" font-size="8.9" text-anchor="end" textLength="4.45" lengthAdjust="spacingAndGlyphs">4</text>
<line x1="128.30" y1="660.80" x2="128.30" y2="664.00" stroke="#1a1a1a" stroke-width="1.1"/>
<line x1="170.80" y1="660.80" x2="170.80" y2="664.00" stroke="#1a1a1a" stroke-width="1.1"/>
<line x1="213.10" y1="660.80" x2="213.10" y2="664.00" stroke="#1a1a1a" stroke-width="1.1"/>
<circle cx="128.30" cy="606.50" r="2.35" fill="#58a42e"/>
<circle cx="125.00" cy="616.50" r="2.35" fill="#58a42e"/>
<circle cx="132.10" cy="622.30" r="2.35" fill="#58a42e"/>
<circle cx="117.70" cy="638.70" r="2.35" fill="#58a42e"/>
<circle cx="125.00" cy="640.20" r="2.35" fill="#58a42e"/>
<circle cx="132.10" cy="638.80" r="2.35" fill="#58a42e"/>
<circle cx="139.20" cy="636.00" r="2.35" fill="#58a42e"/>
<line x1="128.30" y1="615.20" x2="128.30" y2="642.10" stroke="#333" stroke-width="1.0"/>
<line x1="121.30" y1="615.20" x2="135.30" y2="615.20" stroke="#222" stroke-width="1.0"/>
<line x1="121.30" y1="642.10" x2="135.30" y2="642.10" stroke="#222" stroke-width="1.0"/>
<line x1="114.15" y1="628.30" x2="142.45" y2="628.30" stroke="#111" stroke-width="1.4"/>
<path d="M160.20,627.20L162.60,629.60L160.20,632.00L157.80,629.60Z" fill="#194183"/>
<path d="M166.90,629.70L169.30,632.10L166.90,634.50L164.50,632.10Z" fill="#194183"/>
<path d="M174.20,628.80L176.60,631.20L174.20,633.60L171.80,631.20Z" fill="#194183"/>
<path d="M178.10,630.50L180.50,632.90L178.10,635.30L175.70,632.90Z" fill="#194183"/>
<path d="M181.30,627.60L183.70,630.00L181.30,632.40L178.90,630.00Z" fill="#194183"/>
<path d="M160.20,634.30L162.60,636.70L160.20,639.10L157.80,636.70Z" fill="#194183"/>
<path d="M163.50,638.80L165.90,641.20L163.50,643.60L161.10,641.20Z" fill="#194183"/>
<path d="M170.80,637.80L173.20,640.20L170.80,642.60L168.40,640.20Z" fill="#194183"/>
<path d="M177.90,641.30L180.30,643.70L177.90,646.10L175.50,643.70Z" fill="#194183"/>
<path d="M170.80,645.10L173.20,647.50L170.80,649.90L168.40,647.50Z" fill="#194183"/>
<line x1="170.80" y1="630.20" x2="170.80" y2="642.70" stroke="#333" stroke-width="1.0"/>
<line x1="164.05" y1="630.20" x2="177.55" y2="630.20" stroke="#222" stroke-width="1.0"/>
<line x1="164.05" y1="642.70" x2="177.55" y2="642.70" stroke="#222" stroke-width="1.0"/>
<line x1="156.65" y1="636.70" x2="184.95" y2="636.70" stroke="#111" stroke-width="1.4"/>
<path d="M210.80,608.30H215.40L213.10,612.50Z" fill="#e38a0d"/>
<path d="M207.30,626.00H211.90L209.60,630.20Z" fill="#e38a0d"/>
<path d="M214.60,624.60H219.20L216.90,628.80Z" fill="#e38a0d"/>
<path d="M200.20,636.20H204.80L202.50,640.40Z" fill="#e38a0d"/>
<path d="M207.30,637.50H211.90L209.60,641.70Z" fill="#e38a0d"/>
<path d="M214.60,639.10H219.20L216.90,643.30Z" fill="#e38a0d"/>
<path d="M221.70,636.20H226.30L224.00,640.40Z" fill="#e38a0d"/>
<path d="M207.30,649.10H211.90L209.60,653.30Z" fill="#e38a0d"/>
<path d="M214.60,648.30H219.20L216.90,652.50Z" fill="#e38a0d"/>
<line x1="213.10" y1="623.80" x2="213.10" y2="648.80" stroke="#333" stroke-width="1.0"/>
<line x1="206.05" y1="623.80" x2="220.15" y2="623.80" stroke="#222" stroke-width="1.0"/>
<line x1="206.05" y1="648.80" x2="220.15" y2="648.80" stroke="#222" stroke-width="1.0"/>
<line x1="198.95" y1="636.30" x2="227.25" y2="636.30" stroke="#111" stroke-width="1.4"/>
<line x1="311.00" y1="592.10" x2="311.00" y2="661.60" stroke="#1a1a1a" stroke-width="1.3"/>
<line x1="307.40" y1="661.00" x2="436.70" y2="661.00" stroke="#1a1a1a" stroke-width="1.5"/>
<line x1="307.40" y1="661.00" x2="311.00" y2="661.00" stroke="#1a1a1a" stroke-width="1.1"/>
<text x="305.80" y="664.20" font-size="8.9" text-anchor="end" textLength="4.45" lengthAdjust="spacingAndGlyphs">0</text>
<line x1="307.40" y1="647.67" x2="311.00" y2="647.67" stroke="#1a1a1a" stroke-width="1.1"/>
<text x="305.80" y="650.88" font-size="8.9" text-anchor="end" textLength="11.12" lengthAdjust="spacingAndGlyphs">0.5</text>
<line x1="307.40" y1="634.35" x2="311.00" y2="634.35" stroke="#1a1a1a" stroke-width="1.1"/>
<text x="305.80" y="637.55" font-size="8.9" text-anchor="end" textLength="4.45" lengthAdjust="spacingAndGlyphs">1</text>
<line x1="307.40" y1="621.02" x2="311.00" y2="621.02" stroke="#1a1a1a" stroke-width="1.1"/>
<text x="305.80" y="624.23" font-size="8.9" text-anchor="end" textLength="11.12" lengthAdjust="spacingAndGlyphs">1.5</text>
<line x1="307.40" y1="607.70" x2="311.00" y2="607.70" stroke="#1a1a1a" stroke-width="1.1"/>
<text x="305.80" y="610.90" font-size="8.9" text-anchor="end" textLength="4.45" lengthAdjust="spacingAndGlyphs">2</text>
<line x1="307.40" y1="594.38" x2="311.00" y2="594.38" stroke="#1a1a1a" stroke-width="1.1"/>
<text x="305.80" y="597.58" font-size="8.9" text-anchor="end" textLength="11.12" lengthAdjust="spacingAndGlyphs">2.5</text>
<line x1="331.70" y1="661.00" x2="331.70" y2="664.20" stroke="#1a1a1a" stroke-width="1.1"/>
<line x1="373.70" y1="661.00" x2="373.70" y2="664.20" stroke="#1a1a1a" stroke-width="1.1"/>
<line x1="415.40" y1="661.00" x2="415.40" y2="664.20" stroke="#1a1a1a" stroke-width="1.1"/>
<circle cx="335.40" cy="613.80" r="2.35" fill="#58a42e"/>
<circle cx="327.90" cy="619.60" r="2.35" fill="#58a42e"/>
<circle cx="328.30" cy="633.50" r="2.35" fill="#58a42e"/>
<circle cx="335.40" cy="640.60" r="2.35" fill="#58a42e"/>
<circle cx="324.40" cy="644.00" r="2.35" fill="#58a42e"/>
<circle cx="338.80" cy="646.00" r="2.35" fill="#58a42e"/>
<circle cx="331.50" cy="650.80" r="2.35" fill="#58a42e"/>
<line x1="331.70" y1="621.50" x2="331.70" y2="649.20" stroke="#333" stroke-width="1.0"/>
<line x1="325.00" y1="621.50" x2="338.40" y2="621.50" stroke="#222" stroke-width="1.0"/>
<line x1="325.00" y1="649.20" x2="338.40" y2="649.20" stroke="#222" stroke-width="1.0"/>
<line x1="317.95" y1="635.40" x2="345.45" y2="635.40" stroke="#111" stroke-width="1.4"/>
<path d="M373.70,599.70L376.10,602.10L373.70,604.50L371.30,602.10Z" fill="#194183"/>
<path d="M373.70,611.80L376.10,614.20L373.70,616.60L371.30,614.20Z" fill="#194183"/>
<path d="M373.70,620.50L376.10,622.90L373.70,625.30L371.30,622.90Z" fill="#194183"/>
<path d="M363.10,636.80L365.50,639.20L363.10,641.60L360.70,639.20Z" fill="#194183"/>
<path d="M370.20,641.30L372.60,643.70L370.20,646.10L367.80,643.70Z" fill="#194183"/>
<path d="M377.10,641.60L379.50,644.00L377.10,646.40L374.70,644.00Z" fill="#194183"/>
<path d="M384.20,640.10L386.60,642.50L384.20,644.90L381.80,642.50Z" fill="#194183"/>
<path d="M366.30,644.10L368.70,646.50L366.30,648.90L363.90,646.50Z" fill="#194183"/>
<path d="M380.80,646.40L383.20,648.80L380.80,651.20L378.40,648.80Z" fill="#194183"/>
<path d="M373.70,650.90L376.10,653.30L373.70,655.70L371.30,653.30Z" fill="#194183"/>
<line x1="373.70" y1="619.00" x2="373.70" y2="653.10" stroke="#333" stroke-width="1.0"/>
<line x1="366.55" y1="619.00" x2="380.85" y2="619.00" stroke="#222" stroke-width="1.0"/>
<line x1="366.55" y1="653.10" x2="380.85" y2="653.10" stroke="#222" stroke-width="1.0"/>
<line x1="359.85" y1="636.00" x2="387.55" y2="636.00" stroke="#111" stroke-width="1.4"/>
<path d="M413.10,601.20H417.70L415.40,605.40Z" fill="#e38a0d"/>
<path d="M413.10,622.70H417.70L415.40,626.90Z" fill="#e38a0d"/>
<path d="M413.10,632.90H417.70L415.40,637.10Z" fill="#e38a0d"/>
<path d="M406.00,639.60H410.60L408.30,643.80Z" fill="#e38a0d"/>
<path d="M413.10,640.60H417.70L415.40,644.80Z" fill="#e38a0d"/>
<path d="M420.40,636.70H425.00L422.70,640.90Z" fill="#e38a0d"/>
<path d="M406.00,649.60H410.60L408.30,653.80Z" fill="#e38a0d"/>
<path d="M413.10,651.90H417.70L415.40,656.10Z" fill="#e38a0d"/>
<path d="M420.40,651.60H425.00L422.70,655.80Z" fill="#e38a0d"/>
<line x1="415.40" y1="622.30" x2="415.40" y2="655.20" stroke="#333" stroke-width="1.0"/>
<line x1="408.20" y1="622.30" x2="422.60" y2="622.30" stroke="#222" stroke-width="1.0"/>
<line x1="408.20" y1="655.20" x2="422.60" y2="655.20" stroke="#222" stroke-width="1.0"/>
<line x1="401.45" y1="638.70" x2="429.35" y2="638.70" stroke="#111" stroke-width="1.4"/>
<text transform="translate(78.80,625.75) rotate(-90)" font-size="9.6" text-anchor="middle" textLength="64.9" lengthAdjust="spacingAndGlyphs">Total CD4<tspan dy="-3.46" font-size="5.95">+</tspan><tspan dy="3.46"> Foxp3</tspan><tspan dy="-3.46" font-size="5.95">+</tspan></text>
<text transform="translate(90.60,624.30) rotate(-90)" font-size="9.6" text-anchor="middle" textLength="37.4" lengthAdjust="spacingAndGlyphs">cells (x10<tspan dy="-3.46" font-size="5.95">4</tspan><tspan dy="3.46">)</tspan></text>
<text transform="translate(275.60,625.75) rotate(-90)" font-size="9.6" text-anchor="middle" textLength="64.9" lengthAdjust="spacingAndGlyphs">Total CD4<tspan dy="-3.46" font-size="5.95">+</tspan><tspan dy="3.46"> Foxp3</tspan><tspan dy="-3.46" font-size="5.95">+</tspan></text>
<text transform="translate(287.90,624.30) rotate(-90)" font-size="9.6" text-anchor="middle" textLength="37.4" lengthAdjust="spacingAndGlyphs">cells (x10<tspan dy="-3.46" font-size="5.95">4</tspan><tspan dy="3.46">)</tspan></text>
</svg>
</body></html>
